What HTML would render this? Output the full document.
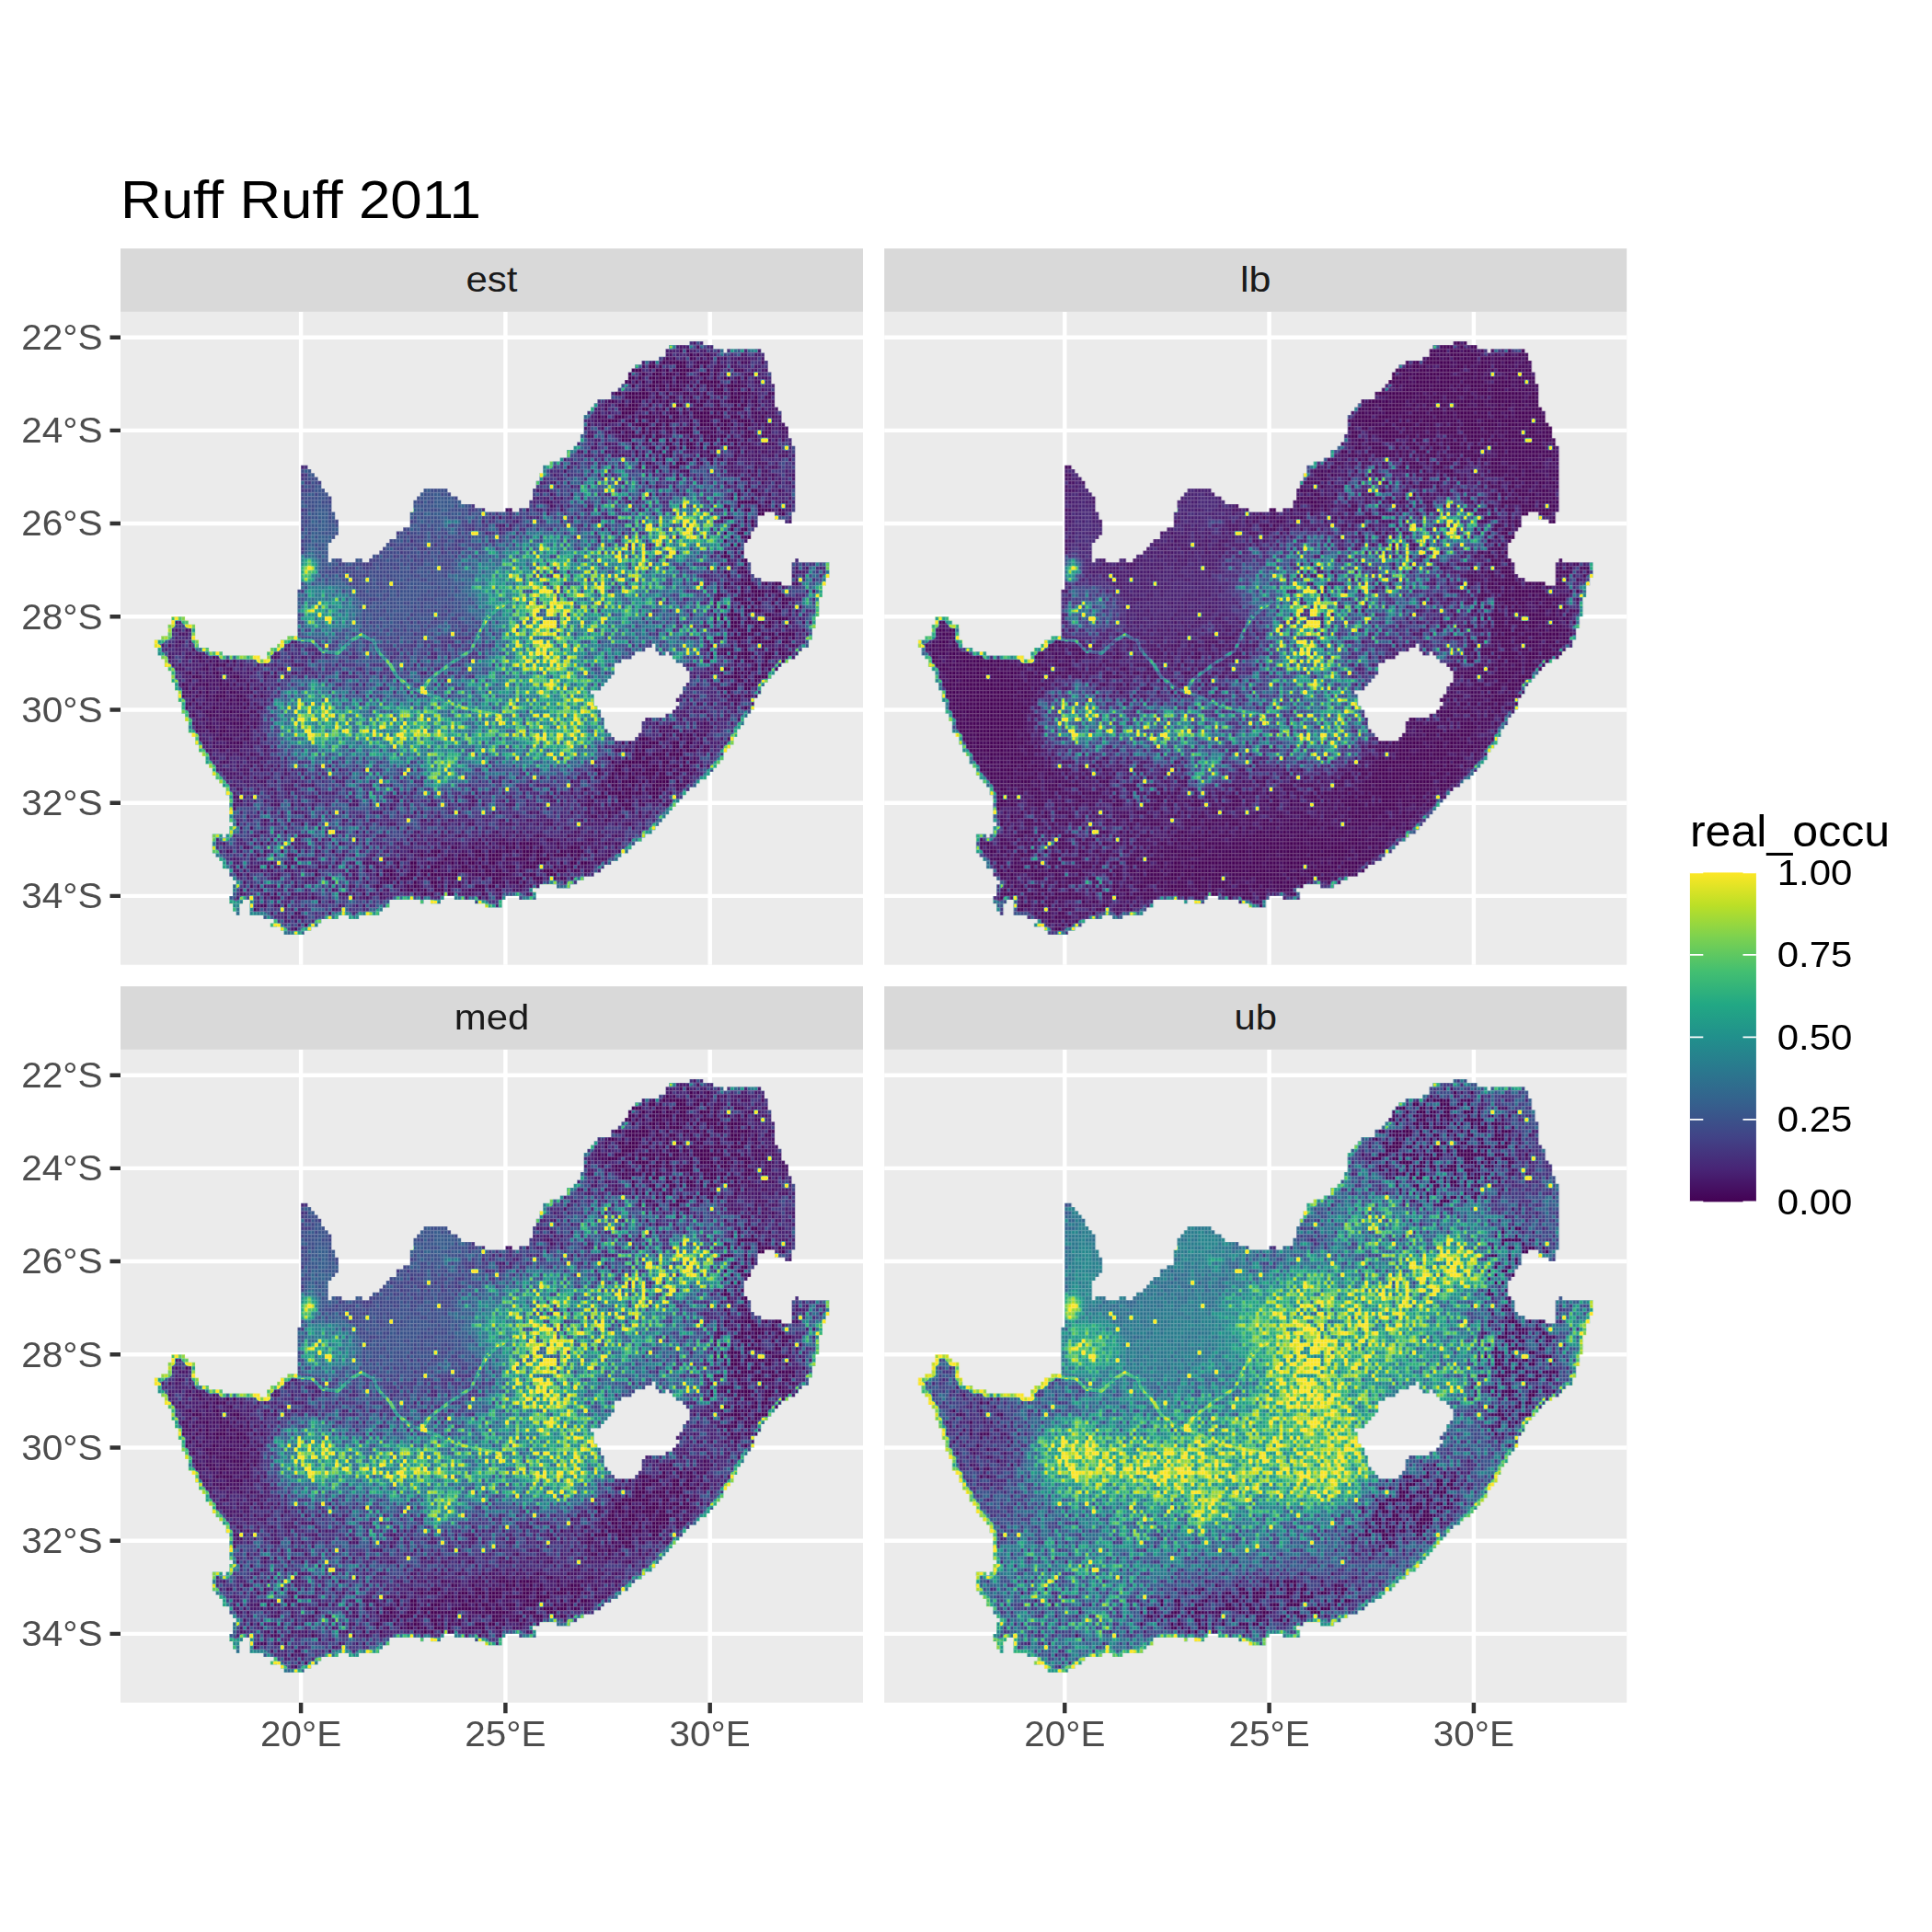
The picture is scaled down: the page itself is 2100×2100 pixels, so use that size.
<!DOCTYPE html><html><head><meta charset="utf-8"><title>Ruff Ruff 2011</title>
<style>html,body{margin:0;padding:0;background:#fff}svg{display:block}text{font-family:"Liberation Sans",sans-serif}</style></head><body>
<svg width="2100" height="2100" viewBox="0 0 2100 2100">
<rect width="2100" height="2100" fill="#fff"/>
<defs>
<path id="za" fill-rule="evenodd" clip-rule="evenodd" d="M327.1,505.8 334.5,505.8 334.5,510.0 338.2,510.0 338.2,514.2 341.9,514.2 341.9,518.5 345.6,518.5 345.6,522.7 349.3,522.7 349.3,531.1 353.0,531.1 353.0,535.3 356.7,535.3 356.7,539.5 360.4,539.5 360.4,548.0 360.4,556.4 364.2,556.4 364.2,564.8 367.9,564.8 367.9,581.7 364.2,581.7 364.2,585.9 360.4,585.9 360.4,590.1 356.7,590.1 356.7,594.4 356.7,611.2 360.4,611.2 360.4,607.0 371.6,607.0 371.6,611.2 386.4,611.2 386.4,607.0 393.8,607.0 393.8,611.2 401.2,611.2 401.2,607.0 404.9,607.0 404.9,602.8 412.3,602.8 412.3,598.6 416.0,598.6 416.0,594.4 419.7,594.4 419.7,590.1 423.4,590.1 423.4,585.9 430.8,585.9 430.8,581.7 430.8,577.5 438.2,577.5 438.2,573.3 445.7,573.3 445.7,569.0 445.7,556.4 449.4,556.4 449.4,552.2 449.4,543.8 453.1,543.8 453.1,539.5 456.8,539.5 456.8,535.3 460.5,535.3 460.5,531.1 486.4,531.1 486.4,535.3 490.1,535.3 490.1,539.5 497.5,539.5 497.5,543.8 501.2,543.8 501.2,548.0 516.1,548.0 516.1,552.2 527.2,552.2 527.2,556.4 549.4,556.4 549.4,552.2 556.8,552.2 556.8,556.4 564.2,556.4 564.2,552.2 575.3,552.2 575.3,543.8 579.0,543.8 579.0,539.5 579.0,531.1 582.7,531.1 582.7,526.9 582.7,522.7 586.5,522.7 586.5,518.5 586.5,514.2 590.2,514.2 590.2,510.0 590.2,505.8 597.6,505.8 597.6,501.6 608.7,501.6 608.7,497.4 616.1,497.4 616.1,488.9 623.5,488.9 623.5,484.7 627.2,484.7 627.2,480.5 630.9,480.5 630.9,476.3 630.9,472.1 634.6,472.1 634.6,467.8 634.6,451.0 638.3,451.0 638.3,446.8 642.0,446.8 642.0,442.5 645.7,442.5 645.7,438.3 649.4,438.3 649.4,434.1 664.3,434.1 664.3,425.7 671.7,425.7 671.7,421.5 675.4,421.5 675.4,417.2 679.1,417.2 679.1,413.0 682.8,413.0 682.8,408.8 682.8,404.6 686.5,404.6 686.5,400.4 690.2,400.4 690.2,396.2 697.6,396.2 697.6,391.9 716.1,391.9 716.1,387.7 723.5,387.7 723.5,379.3 727.2,379.3 727.2,375.1 749.5,375.1 749.5,370.9 764.3,370.9 764.3,375.1 775.4,375.1 775.4,379.3 786.5,379.3 786.5,383.5 790.2,383.5 790.2,379.3 827.3,379.3 827.3,383.5 831.0,383.5 831.0,391.9 834.7,391.9 834.7,404.6 838.4,404.6 838.4,417.2 842.1,417.2 842.1,442.5 845.8,442.5 845.8,446.8 849.5,446.8 849.5,459.4 853.2,459.4 853.2,463.6 856.9,463.6 856.9,476.3 860.6,476.3 860.6,484.7 864.3,484.7 864.3,556.4 860.6,556.4 860.6,569.0 853.2,569.0 853.2,564.8 842.1,564.8 842.1,556.4 831.0,556.4 831.0,560.6 827.3,560.6 823.6,560.6 823.6,564.8 823.6,573.3 819.9,573.3 819.9,577.5 816.2,577.5 816.2,585.9 812.5,585.9 812.5,590.1 808.8,590.1 808.8,607.0 812.5,607.0 812.5,611.2 816.2,611.2 816.2,623.9 819.9,623.9 819.9,628.1 827.3,628.1 827.3,632.3 849.5,632.3 849.5,636.5 860.6,636.5 860.6,611.2 864.3,611.2 864.3,607.0 868.0,607.0 868.0,611.2 901.4,611.2 901.4,628.1 897.7,628.1 897.7,636.5 894.0,636.5 894.0,649.2 890.3,649.2 890.3,670.2 886.6,670.2 886.6,682.9 882.9,682.9 882.9,695.5 879.1,695.5 879.1,704.0 871.7,704.0 871.7,708.2 868.0,708.2 868.0,712.4 864.3,712.4 864.3,716.6 856.9,716.6 856.9,720.8 849.5,720.8 849.5,725.1 845.8,725.1 845.8,729.3 842.1,729.3 842.1,733.5 838.4,733.5 838.4,737.7 834.7,737.7 834.7,741.9 831.0,741.9 831.0,746.1 827.3,746.1 827.3,754.6 823.6,754.6 823.6,758.8 819.9,758.8 819.9,771.5 816.2,771.5 816.2,775.7 812.5,775.7 812.5,779.9 808.8,779.9 808.8,788.3 805.0,788.3 805.0,792.5 801.3,792.5 801.3,801.0 797.6,801.0 797.6,809.4 793.9,809.4 793.9,813.6 790.2,813.6 790.2,817.8 786.5,817.8 786.5,826.3 782.8,826.3 782.8,830.5 779.1,830.5 779.1,834.7 775.4,834.7 775.4,838.9 771.7,838.9 771.7,843.1 768.0,843.1 768.0,847.3 760.6,847.3 760.6,851.6 756.9,851.6 756.9,855.8 749.5,855.8 749.5,860.0 745.8,860.0 745.8,864.2 742.1,864.2 742.1,868.4 738.4,868.4 738.4,872.6 734.7,872.6 734.7,876.9 730.9,876.9 730.9,881.1 727.2,881.1 727.2,885.3 723.5,885.3 723.5,889.5 719.8,889.5 719.8,893.7 716.1,893.7 716.1,898.0 712.4,898.0 712.4,902.2 708.7,902.2 708.7,906.4 701.3,906.4 701.3,910.6 697.6,910.6 697.6,914.8 690.2,914.8 690.2,919.0 686.5,919.0 686.5,923.2 682.8,923.2 682.8,927.5 675.4,927.5 675.4,931.7 671.7,931.7 671.7,935.9 664.3,935.9 664.3,940.1 656.8,940.1 656.8,944.3 653.1,944.3 653.1,948.5 645.7,948.5 645.7,952.8 634.6,952.8 634.6,957.0 627.2,957.0 627.2,961.2 619.8,961.2 619.8,965.4 605.0,965.4 605.0,961.2 586.5,961.2 586.5,965.4 579.0,965.4 579.0,969.6 582.7,969.6 582.7,978.1 564.2,978.1 564.2,973.9 549.4,973.9 549.4,978.1 545.7,978.1 545.7,986.5 527.2,986.5 527.2,982.3 516.1,982.3 516.1,978.1 493.8,978.1 493.8,973.9 482.7,973.9 482.7,978.1 479.0,978.1 479.0,982.3 467.9,982.3 467.9,978.1 460.5,978.1 460.5,982.3 456.8,982.3 456.8,978.1 423.4,978.1 423.4,986.5 416.0,986.5 416.0,990.7 412.3,990.7 412.3,994.9 390.1,994.9 390.1,999.1 379.0,999.1 379.0,994.9 367.9,994.9 367.9,999.1 349.3,999.1 349.3,1003.4 345.6,1003.4 345.6,1007.6 338.2,1007.6 338.2,1011.8 330.8,1011.8 330.8,1016.0 308.6,1016.0 308.6,1011.8 304.9,1011.8 304.9,1007.6 293.8,1007.6 293.8,1003.4 297.5,1003.4 297.5,999.1 286.3,999.1 286.3,994.9 271.5,994.9 271.5,978.1 264.1,978.1 264.1,982.3 260.4,982.3 260.4,994.9 256.7,994.9 256.7,990.7 253.0,990.7 253.0,982.3 249.3,982.3 249.3,973.9 253.0,973.9 253.0,961.2 256.7,961.2 256.7,957.0 253.0,957.0 253.0,952.8 249.3,952.8 249.3,944.3 241.9,944.3 241.9,935.9 238.2,935.9 238.2,931.7 234.5,931.7 234.5,927.5 230.8,927.5 230.8,906.4 241.9,906.4 241.9,910.6 245.6,910.6 245.6,906.4 249.3,906.4 249.3,898.0 253.0,898.0 253.0,893.7 249.3,893.7 249.3,864.2 245.6,864.2 245.6,855.8 241.9,855.8 241.9,851.6 238.2,851.6 238.2,847.3 234.5,847.3 234.5,843.1 230.8,843.1 230.8,834.7 227.1,834.7 227.1,830.5 223.4,830.5 223.4,822.0 219.7,822.0 219.7,817.8 216.0,817.8 216.0,809.4 212.2,809.4 212.2,801.0 208.5,801.0 208.5,796.8 204.8,796.8 204.8,784.1 201.1,784.1 201.1,775.7 197.4,775.7 197.4,763.0 193.7,763.0 193.7,750.4 190.0,750.4 190.0,741.9 186.3,741.9 186.3,729.3 182.6,729.3 182.6,725.1 178.9,725.1 178.9,716.6 175.2,716.6 175.2,712.4 171.5,712.4 171.5,704.0 167.8,704.0 167.8,695.5 175.2,695.5 175.2,691.3 182.6,691.3 182.6,678.7 186.3,678.7 186.3,670.2 201.1,670.2 201.1,674.5 204.8,674.5 204.8,678.7 212.2,678.7 212.2,695.5 216.0,695.5 216.0,704.0 227.1,704.0 227.1,708.2 241.9,708.2 241.9,712.4 282.6,712.4 282.6,716.6 290.1,716.6 290.1,708.2 293.8,708.2 293.8,704.0 301.2,704.0 301.2,699.8 304.9,699.8 304.9,695.5 312.3,695.5 312.3,691.3 323.4,691.3 323.4,649.2 323.4,640.7 327.1,640.7ZM708.7,699.8 712.4,699.8 712.4,708.2 716.1,708.2 716.1,712.4 723.5,712.4 723.5,708.2 727.2,708.2 727.2,712.4 730.9,712.4 730.9,716.6 734.7,716.6 734.7,720.8 742.1,720.8 742.1,725.1 745.8,725.1 745.8,729.3 749.5,729.3 749.5,741.9 745.8,741.9 745.8,746.1 742.1,746.1 742.1,754.6 738.4,754.6 738.4,758.8 734.7,758.8 734.7,763.0 738.4,763.0 738.4,767.2 734.7,767.2 734.7,771.5 730.9,771.5 730.9,775.7 723.5,775.7 723.5,779.9 701.3,779.9 701.3,784.1 697.6,784.1 697.6,796.8 693.9,796.8 693.9,801.0 690.2,801.0 690.2,805.2 668.0,805.2 668.0,801.0 664.3,801.0 664.3,796.8 660.5,796.8 660.5,792.5 656.8,792.5 656.8,779.9 653.1,779.9 653.1,771.5 649.4,771.5 649.4,767.2 645.7,767.2 645.7,754.6 642.0,754.6 642.0,750.4 653.1,750.4 653.1,746.1 656.8,746.1 656.8,741.9 660.5,741.9 660.5,737.7 664.3,737.7 664.3,733.5 668.0,733.5 668.0,720.8 675.4,720.8 675.4,716.6 686.5,716.6 686.5,712.4 690.2,712.4 690.2,708.2 701.3,708.2 701.3,704.0 708.7,704.0Z"/>
<clipPath id="zaclip"><use href="#za"/></clipPath>
<radialGradient id="gb"><stop offset="0" stop-color="#fff" stop-opacity="1"/><stop offset=".2" stop-color="#fff" stop-opacity=".9"/><stop offset=".4" stop-color="#fff" stop-opacity=".66"/><stop offset=".6" stop-color="#fff" stop-opacity=".37"/><stop offset=".8" stop-color="#fff" stop-opacity=".13"/><stop offset="1" stop-color="#fff" stop-opacity="0"/></radialGradient><radialGradient id="gk"><stop offset="0" stop-color="#000" stop-opacity="1"/><stop offset=".2" stop-color="#000" stop-opacity=".9"/><stop offset=".4" stop-color="#000" stop-opacity=".66"/><stop offset=".6" stop-color="#000" stop-opacity=".37"/><stop offset=".8" stop-color="#000" stop-opacity=".13"/><stop offset="1" stop-color="#000" stop-opacity="0"/></radialGradient><radialGradient id="gf"><stop offset="0" stop-color="#fff"/><stop offset=".55" stop-color="#fff"/><stop offset="1" stop-color="#fff" stop-opacity="0"/></radialGradient><pattern id="n1" patternUnits="userSpaceOnUse" width="23" height="19" patternTransform="translate(327.10 366.65) scale(3.7050 4.2167)"><rect width="23" height="19" fill="#424242"/><path d="M10 0h1v1h-1zM12 0h1v1h-1zM15 0h1v1h-1zM21 0h1v1h-1zM0 1h1v1h-1zM3 1h1v1h-1zM20 1h1v1h-1zM4 2h1v1h-1zM10 2h1v1h-1zM14 2h1v1h-1zM18 2h1v1h-1zM20 2h2v1h-2zM5 3h1v1h-1zM7 3h1v1h-1zM19 3h1v1h-1zM3 4h2v1h-2zM4 5h2v1h-2zM15 5h1v1h-1zM0 6h1v1h-1zM3 6h1v1h-1zM7 6h1v1h-1zM14 6h3v1h-3zM20 6h1v1h-1zM3 7h1v1h-1zM0 8h1v1h-1zM10 8h1v1h-1zM12 8h1v1h-1zM21 8h1v1h-1zM17 9h1v1h-1zM12 10h2v1h-2zM15 10h1v1h-1zM20 10h2v1h-2zM0 11h1v1h-1zM3 11h2v1h-2zM15 11h1v1h-1zM5 12h1v1h-1zM8 12h1v1h-1zM11 13h1v1h-1zM16 13h1v1h-1zM18 13h1v1h-1zM0 14h1v1h-1zM9 14h1v1h-1zM8 15h1v1h-1zM16 15h1v1h-1zM0 16h1v1h-1zM9 16h1v1h-1zM11 16h1v1h-1zM18 16h1v1h-1zM20 16h1v1h-1zM1 18h1v1h-1zM5 18h1v1h-1zM9 18h1v1h-1zM12 18h1v1h-1zM17 18h1v1h-1z" fill="#1a1a1a"/><path d="M0 0h1v1h-1zM3 0h2v1h-2zM7 0h1v1h-1zM4 1h2v1h-2zM7 1h1v1h-1zM9 1h1v1h-1zM11 1h1v1h-1zM22 1h1v1h-1zM1 2h1v1h-1zM7 2h1v1h-1zM9 2h1v1h-1zM2 3h1v1h-1zM8 3h1v1h-1zM16 3h1v1h-1zM8 4h2v1h-2zM11 4h1v1h-1zM3 5h1v1h-1zM2 6h1v1h-1zM5 6h1v1h-1zM8 6h1v1h-1zM22 6h1v1h-1zM11 7h1v1h-1zM15 7h1v1h-1zM20 7h1v1h-1zM5 8h1v1h-1zM8 8h1v1h-1zM14 8h1v1h-1zM17 8h1v1h-1zM5 9h1v1h-1zM10 9h1v1h-1zM14 9h1v1h-1zM18 9h1v1h-1zM2 10h1v1h-1zM5 10h1v1h-1zM7 10h1v1h-1zM11 10h1v1h-1zM22 10h1v1h-1zM6 11h1v1h-1zM13 11h1v1h-1zM16 11h1v1h-1zM20 11h1v1h-1zM22 11h1v1h-1zM2 12h1v1h-1zM9 12h1v1h-1zM12 12h1v1h-1zM17 12h1v1h-1zM10 13h1v1h-1zM12 13h1v1h-1zM15 13h1v1h-1zM21 13h1v1h-1zM2 14h1v1h-1zM7 14h1v1h-1zM15 14h1v1h-1zM19 14h1v1h-1zM6 15h1v1h-1zM10 15h2v1h-2zM14 15h1v1h-1zM18 15h1v1h-1zM22 15h1v1h-1zM1 16h1v1h-1zM4 16h1v1h-1zM16 16h1v1h-1zM21 16h1v1h-1zM2 17h3v1h-3zM7 18h1v1h-1zM10 18h1v1h-1zM18 18h1v1h-1zM20 18h1v1h-1z" fill="#737373"/><path d="M1 0h1v1h-1zM5 0h1v1h-1zM8 0h1v1h-1zM14 0h1v1h-1zM18 0h2v1h-2zM22 0h1v1h-1zM8 1h1v1h-1zM10 1h1v1h-1zM16 1h1v1h-1zM11 2h1v1h-1zM1 3h1v1h-1zM6 3h1v1h-1zM18 3h1v1h-1zM5 4h1v1h-1zM7 4h1v1h-1zM12 4h1v1h-1zM2 5h1v1h-1zM8 5h1v1h-1zM11 5h1v1h-1zM17 5h1v1h-1zM19 5h1v1h-1zM6 6h1v1h-1zM11 6h3v1h-3zM18 6h1v1h-1zM21 6h1v1h-1zM4 7h1v1h-1zM8 7h1v1h-1zM12 7h1v1h-1zM18 7h2v1h-2zM21 7h2v1h-2zM1 8h1v1h-1zM7 8h1v1h-1zM13 8h1v1h-1zM16 8h1v1h-1zM18 8h1v1h-1zM0 9h1v1h-1zM4 9h1v1h-1zM8 9h1v1h-1zM15 9h1v1h-1zM21 9h1v1h-1zM6 10h1v1h-1zM16 10h2v1h-2zM5 11h1v1h-1zM7 11h2v1h-2zM11 11h1v1h-1zM17 11h1v1h-1zM21 11h1v1h-1zM0 12h1v1h-1zM10 12h1v1h-1zM13 12h1v1h-1zM18 12h1v1h-1zM22 12h1v1h-1zM5 13h1v1h-1zM13 13h1v1h-1zM5 14h1v1h-1zM11 14h1v1h-1zM14 14h1v1h-1zM17 14h1v1h-1zM2 15h2v1h-2zM5 15h1v1h-1zM7 15h1v1h-1zM13 15h1v1h-1zM15 15h1v1h-1zM17 15h1v1h-1zM7 16h1v1h-1zM14 16h1v1h-1zM17 16h1v1h-1zM1 17h1v1h-1zM5 17h1v1h-1zM8 17h3v1h-3zM12 17h1v1h-1zM11 18h1v1h-1zM14 18h1v1h-1zM21 18h1v1h-1z" fill="#a6a6a6"/><path d="M9 0h1v1h-1zM13 0h1v1h-1zM6 1h1v1h-1zM15 1h1v1h-1zM21 1h1v1h-1zM0 2h1v1h-1zM3 2h1v1h-1zM12 2h1v1h-1zM17 2h1v1h-1zM22 2h1v1h-1zM4 3h1v1h-1zM12 3h1v1h-1zM17 3h1v1h-1zM0 4h1v1h-1zM17 4h1v1h-1zM20 4h1v1h-1zM10 5h1v1h-1zM14 5h1v1h-1zM18 5h1v1h-1zM0 7h1v1h-1zM5 7h1v1h-1zM7 7h1v1h-1zM9 7h1v1h-1zM16 7h1v1h-1zM4 8h1v1h-1zM6 8h1v1h-1zM9 8h1v1h-1zM11 8h1v1h-1zM11 9h1v1h-1zM19 9h2v1h-2zM9 10h1v1h-1zM19 10h1v1h-1zM1 11h1v1h-1zM9 11h1v1h-1zM1 12h1v1h-1zM3 12h1v1h-1zM7 12h1v1h-1zM15 12h1v1h-1zM20 12h2v1h-2zM0 13h1v1h-1zM6 13h1v1h-1zM9 13h1v1h-1zM14 13h1v1h-1zM17 13h1v1h-1zM19 13h1v1h-1zM22 13h1v1h-1zM3 14h2v1h-2zM13 14h1v1h-1zM16 14h1v1h-1zM20 14h1v1h-1zM0 15h1v1h-1zM12 15h1v1h-1zM2 16h1v1h-1zM10 16h1v1h-1zM19 16h1v1h-1zM11 17h1v1h-1zM13 17h1v1h-1zM15 17h2v1h-2zM3 18h1v1h-1zM6 18h1v1h-1zM8 18h1v1h-1zM19 18h1v1h-1z" fill="#d4d4d4"/><path d="M2 0h1v1h-1zM16 0h2v1h-2zM13 1h2v1h-2zM2 2h1v1h-1zM6 2h1v1h-1zM8 2h1v1h-1zM16 2h1v1h-1zM11 3h1v1h-1zM14 3h1v1h-1zM20 3h1v1h-1zM10 4h1v1h-1zM13 4h1v1h-1zM16 4h1v1h-1zM21 4h1v1h-1zM0 5h2v1h-2zM6 5h1v1h-1zM21 5h1v1h-1zM9 6h2v1h-2zM17 6h1v1h-1zM19 6h1v1h-1zM2 7h1v1h-1zM6 7h1v1h-1zM10 7h1v1h-1zM13 7h2v1h-2zM17 7h1v1h-1zM2 8h2v1h-2zM19 8h1v1h-1zM3 9h1v1h-1zM6 9h1v1h-1zM12 9h2v1h-2zM22 9h1v1h-1zM10 10h1v1h-1zM14 10h1v1h-1zM10 11h1v1h-1zM4 12h1v1h-1zM6 12h1v1h-1zM11 12h1v1h-1zM14 12h1v1h-1zM16 12h1v1h-1zM2 13h3v1h-3zM8 13h1v1h-1zM6 14h1v1h-1zM8 14h1v1h-1zM21 14h1v1h-1zM1 15h1v1h-1zM9 15h1v1h-1zM19 15h2v1h-2zM3 16h1v1h-1zM8 16h1v1h-1zM17 17h1v1h-1zM20 17h1v1h-1zM22 17h1v1h-1zM0 18h1v1h-1zM15 18h2v1h-2z" fill="#ffffff"/></pattern><pattern id="n2" patternUnits="userSpaceOnUse" width="17" height="29" patternTransform="translate(327.10 366.65) scale(3.7050 4.2167)"><rect width="17" height="29" fill="#d1d1d1"/><path d="M6 0h1v1h-1zM11 0h1v1h-1zM16 0h1v1h-1zM6 1h1v1h-1zM8 1h2v1h-2zM10 2h2v1h-2zM14 2h1v1h-1zM6 3h1v1h-1zM8 3h1v1h-1zM11 3h1v1h-1zM15 3h2v1h-2zM10 4h1v1h-1zM14 4h1v1h-1zM16 4h1v1h-1zM9 5h2v1h-2zM14 5h1v1h-1zM6 6h1v1h-1zM8 6h1v1h-1zM11 6h1v1h-1zM16 6h1v1h-1zM1 7h1v1h-1zM14 7h1v1h-1zM4 8h1v1h-1zM7 9h1v1h-1zM9 11h1v1h-1zM16 11h1v1h-1zM2 12h2v1h-2zM7 12h1v1h-1zM14 12h1v1h-1zM1 13h1v1h-1zM4 13h1v1h-1zM6 13h1v1h-1zM16 13h1v1h-1zM7 14h2v1h-2zM11 14h1v1h-1zM15 15h1v1h-1zM4 16h1v1h-1zM2 17h1v1h-1zM13 17h1v1h-1zM2 18h1v1h-1zM16 18h1v1h-1zM6 19h1v1h-1zM11 19h1v1h-1zM14 19h1v1h-1zM2 20h1v1h-1zM7 20h1v1h-1zM13 20h1v1h-1zM16 20h1v1h-1zM4 21h2v1h-2zM7 21h2v1h-2zM12 21h1v1h-1zM2 22h1v1h-1zM4 22h1v1h-1zM15 22h1v1h-1zM5 23h1v1h-1zM7 23h2v1h-2zM15 23h1v1h-1zM0 24h2v1h-2zM5 24h1v1h-1zM9 24h1v1h-1zM0 25h1v1h-1zM11 25h2v1h-2zM14 25h1v1h-1zM1 26h1v1h-1zM7 26h1v1h-1zM13 26h1v1h-1zM3 27h1v1h-1zM11 27h1v1h-1zM1 28h1v1h-1zM3 28h1v1h-1z" fill="#737373"/><path d="M13 0h1v1h-1zM0 1h2v1h-2zM4 1h1v1h-1zM11 1h2v1h-2zM15 1h1v1h-1zM2 2h1v1h-1zM7 2h3v1h-3zM12 2h1v1h-1zM16 2h1v1h-1zM0 3h1v1h-1zM3 3h1v1h-1zM13 3h1v1h-1zM0 4h1v1h-1zM2 4h1v1h-1zM6 4h2v1h-2zM0 5h1v1h-1zM3 5h1v1h-1zM6 5h3v1h-3zM13 5h1v1h-1zM1 6h1v1h-1zM3 7h1v1h-1zM12 7h1v1h-1zM15 7h1v1h-1zM3 8h1v1h-1zM5 8h1v1h-1zM8 8h1v1h-1zM14 8h1v1h-1zM16 8h1v1h-1zM3 9h1v1h-1zM9 9h1v1h-1zM15 9h1v1h-1zM2 10h1v1h-1zM10 10h1v1h-1zM0 11h1v1h-1zM10 11h1v1h-1zM13 11h1v1h-1zM1 12h1v1h-1zM4 12h3v1h-3zM9 12h1v1h-1zM12 12h1v1h-1zM16 12h1v1h-1zM3 13h1v1h-1zM8 13h1v1h-1zM15 13h1v1h-1zM5 14h1v1h-1zM14 14h1v1h-1zM16 14h1v1h-1zM0 15h1v1h-1zM2 15h1v1h-1zM6 15h1v1h-1zM10 15h1v1h-1zM13 15h1v1h-1zM1 16h1v1h-1zM6 16h1v1h-1zM9 16h3v1h-3zM13 16h1v1h-1zM4 17h1v1h-1zM6 17h2v1h-2zM10 17h1v1h-1zM14 17h1v1h-1zM13 18h2v1h-2zM3 19h1v1h-1zM10 19h1v1h-1zM15 19h1v1h-1zM9 20h1v1h-1zM14 20h1v1h-1zM2 21h1v1h-1zM6 21h1v1h-1zM14 21h1v1h-1zM1 22h1v1h-1zM10 22h1v1h-1zM12 22h1v1h-1zM16 22h1v1h-1zM0 23h1v1h-1zM2 23h1v1h-1zM10 23h1v1h-1zM13 23h1v1h-1zM4 24h1v1h-1zM11 24h3v1h-3zM15 24h1v1h-1zM13 25h1v1h-1zM8 26h3v1h-3zM14 26h3v1h-3zM0 27h2v1h-2zM5 27h1v1h-1zM13 27h1v1h-1zM16 27h1v1h-1zM0 28h1v1h-1zM2 28h1v1h-1zM6 28h2v1h-2zM9 28h1v1h-1zM12 28h2v1h-2z" fill="#a6a6a6"/><path d="M1 0h5v1h-5zM8 0h1v1h-1zM10 0h1v1h-1zM2 1h2v1h-2zM5 1h1v1h-1zM10 1h1v1h-1zM13 1h2v1h-2zM16 1h1v1h-1zM3 2h1v1h-1zM5 2h2v1h-2zM1 3h1v1h-1zM5 3h1v1h-1zM7 3h1v1h-1zM9 3h2v1h-2zM12 3h1v1h-1zM1 4h1v1h-1zM3 4h3v1h-3zM9 4h1v1h-1zM11 4h3v1h-3zM15 4h1v1h-1zM2 5h1v1h-1zM4 5h1v1h-1zM12 5h1v1h-1zM15 5h1v1h-1zM3 6h1v1h-1zM7 6h1v1h-1zM10 6h1v1h-1zM12 6h2v1h-2zM15 6h1v1h-1zM2 7h1v1h-1zM5 7h3v1h-3zM10 7h1v1h-1zM16 7h1v1h-1zM0 8h1v1h-1zM6 8h2v1h-2zM9 8h3v1h-3zM13 8h1v1h-1zM15 8h1v1h-1zM1 9h1v1h-1zM4 9h1v1h-1zM12 9h1v1h-1zM14 9h1v1h-1zM0 10h2v1h-2zM3 10h2v1h-2zM6 10h2v1h-2zM11 10h2v1h-2zM15 10h2v1h-2zM1 11h1v1h-1zM6 11h1v1h-1zM8 11h1v1h-1zM13 12h1v1h-1zM2 13h1v1h-1zM10 13h2v1h-2zM13 13h1v1h-1zM2 14h2v1h-2zM6 14h1v1h-1zM13 14h1v1h-1zM1 15h1v1h-1zM3 15h2v1h-2zM7 15h1v1h-1zM11 15h1v1h-1zM2 16h2v1h-2zM7 16h2v1h-2zM12 16h1v1h-1zM1 17h1v1h-1zM3 17h1v1h-1zM11 17h1v1h-1zM16 17h1v1h-1zM0 18h1v1h-1zM3 18h1v1h-1zM6 18h1v1h-1zM9 18h1v1h-1zM12 18h1v1h-1zM15 18h1v1h-1zM0 19h2v1h-2zM4 19h2v1h-2zM13 19h1v1h-1zM16 19h1v1h-1zM0 20h1v1h-1zM3 20h4v1h-4zM8 20h1v1h-1zM11 20h2v1h-2zM15 20h1v1h-1zM10 21h2v1h-2zM0 22h1v1h-1zM3 22h1v1h-1zM7 22h1v1h-1zM13 22h1v1h-1zM1 23h1v1h-1zM3 23h1v1h-1zM11 23h1v1h-1zM14 23h1v1h-1zM16 23h1v1h-1zM2 24h1v1h-1zM6 24h1v1h-1zM8 24h1v1h-1zM1 25h1v1h-1zM3 25h1v1h-1zM5 25h1v1h-1zM9 25h1v1h-1zM15 25h1v1h-1zM0 26h1v1h-1zM3 26h1v1h-1zM12 26h1v1h-1zM4 27h1v1h-1zM6 27h1v1h-1zM10 27h1v1h-1zM15 27h1v1h-1zM5 28h1v1h-1zM10 28h2v1h-2zM15 28h1v1h-1z" fill="#ffffff"/></pattern><pattern id="sp1" patternUnits="userSpaceOnUse" width="53" height="47" patternTransform="translate(327.10 366.65) scale(3.7050 4.2167)"><path d="M0 4h1v1h-1zM0 30h1v1h-1zM1 7h1v1h-1zM1 18h1v1h-1zM1 23h1v1h-1zM1 24h1v1h-1zM1 37h1v1h-1zM2 2h1v1h-1zM2 7h1v1h-1zM2 8h1v1h-1zM2 19h1v1h-1zM2 23h1v1h-1zM2 26h1v1h-1zM2 29h1v1h-1zM2 33h1v1h-1zM2 36h1v1h-1zM3 0h1v1h-1zM3 4h1v1h-1zM3 8h1v1h-1zM3 17h1v1h-1zM3 23h1v1h-1zM3 30h1v1h-1zM3 40h1v1h-1zM3 43h1v1h-1zM4 22h1v1h-1zM4 27h1v1h-1zM4 37h1v1h-1zM5 21h1v1h-1zM5 36h1v1h-1zM5 39h1v1h-1zM6 1h1v1h-1zM6 35h1v1h-1zM6 37h1v1h-1zM6 38h1v1h-1zM6 42h1v1h-1zM6 45h1v1h-1zM7 2h1v1h-1zM7 4h1v1h-1zM7 8h1v1h-1zM7 29h1v1h-1zM8 1h1v1h-1zM8 17h1v1h-1zM8 26h1v1h-1zM9 12h1v1h-1zM9 14h1v1h-1zM9 37h1v1h-1zM9 41h1v1h-1zM10 6h1v1h-1zM10 15h1v1h-1zM10 20h1v1h-1zM10 32h1v1h-1zM10 37h1v1h-1zM10 44h1v1h-1zM11 17h1v1h-1zM11 43h1v1h-1zM12 7h1v1h-1zM12 20h1v1h-1zM12 26h1v1h-1zM12 45h1v1h-1zM13 36h1v1h-1zM14 7h1v1h-1zM14 21h1v1h-1zM14 27h1v1h-1zM14 41h1v1h-1zM14 44h1v1h-1zM15 11h1v1h-1zM15 13h1v1h-1zM15 17h1v1h-1zM15 20h1v1h-1zM15 24h1v1h-1zM15 26h1v1h-1zM15 37h1v1h-1zM16 9h1v1h-1zM16 12h1v1h-1zM16 23h1v1h-1zM16 33h1v1h-1zM16 34h1v1h-1zM16 40h1v1h-1zM16 43h1v1h-1zM17 18h1v1h-1zM17 27h1v1h-1zM17 31h1v1h-1zM17 38h1v1h-1zM18 7h1v1h-1zM18 26h1v1h-1zM18 33h1v1h-1zM18 34h1v1h-1zM18 39h1v1h-1zM19 15h1v1h-1zM19 23h1v1h-1zM19 24h1v1h-1zM19 26h1v1h-1zM19 27h1v1h-1zM19 32h1v1h-1zM19 35h1v1h-1zM20 0h1v1h-1zM20 11h1v1h-1zM20 21h1v1h-1zM20 23h1v1h-1zM20 26h1v1h-1zM20 34h1v1h-1zM21 0h1v1h-1zM21 7h1v1h-1zM21 8h1v1h-1zM21 14h1v1h-1zM21 20h1v1h-1zM21 27h1v1h-1zM21 41h1v1h-1zM22 4h1v1h-1zM22 14h1v1h-1zM22 35h1v1h-1zM22 37h1v1h-1zM23 6h1v1h-1zM23 8h1v1h-1zM23 11h1v1h-1zM23 38h1v1h-1zM24 5h1v1h-1zM24 11h1v1h-1zM24 24h1v1h-1zM24 32h1v1h-1zM24 37h1v1h-1zM24 40h1v1h-1zM24 41h1v1h-1zM24 45h1v1h-1zM25 9h1v1h-1zM25 40h1v1h-1zM25 46h1v1h-1zM26 3h1v1h-1zM26 5h1v1h-1zM26 9h1v1h-1zM26 37h1v1h-1zM26 44h1v1h-1zM27 26h1v1h-1zM27 35h1v1h-1zM27 36h1v1h-1zM27 40h1v1h-1zM27 41h1v1h-1zM28 8h1v1h-1zM28 10h1v1h-1zM28 17h1v1h-1zM28 37h1v1h-1zM29 1h1v1h-1zM29 19h1v1h-1zM29 22h1v1h-1zM29 33h1v1h-1zM29 38h1v1h-1zM29 39h1v1h-1zM30 2h1v1h-1zM30 3h1v1h-1zM30 5h1v1h-1zM30 7h1v1h-1zM30 9h1v1h-1zM30 16h1v1h-1zM30 34h1v1h-1zM30 38h1v1h-1zM30 40h1v1h-1zM31 13h1v1h-1zM31 20h1v1h-1zM31 30h1v1h-1zM31 40h1v1h-1zM32 12h1v1h-1zM32 15h1v1h-1zM32 20h1v1h-1zM32 24h1v1h-1zM32 32h1v1h-1zM32 33h1v1h-1zM33 24h1v1h-1zM33 27h1v1h-1zM33 34h1v1h-1zM34 2h1v1h-1zM34 7h1v1h-1zM34 8h1v1h-1zM34 17h1v1h-1zM34 18h1v1h-1zM34 37h1v1h-1zM35 0h1v1h-1zM35 3h1v1h-1zM35 6h1v1h-1zM35 14h1v1h-1zM35 16h1v1h-1zM35 17h1v1h-1zM35 20h1v1h-1zM35 30h1v1h-1zM36 11h1v1h-1zM36 22h1v1h-1zM36 25h1v1h-1zM36 26h1v1h-1zM36 34h1v1h-1zM36 36h1v1h-1zM36 37h1v1h-1zM36 43h1v1h-1zM37 4h1v1h-1zM37 19h1v1h-1zM37 20h1v1h-1zM37 21h1v1h-1zM37 38h1v1h-1zM38 0h1v1h-1zM38 16h1v1h-1zM38 25h1v1h-1zM38 39h1v1h-1zM38 43h1v1h-1zM38 45h1v1h-1zM39 7h1v1h-1zM39 27h1v1h-1zM39 32h1v1h-1zM39 33h1v1h-1zM39 37h1v1h-1zM40 8h1v1h-1zM40 9h1v1h-1zM40 21h1v1h-1zM40 26h1v1h-1zM40 31h1v1h-1zM40 36h1v1h-1zM40 46h1v1h-1zM41 13h1v1h-1zM41 15h1v1h-1zM41 34h1v1h-1zM42 1h1v1h-1zM42 4h1v1h-1zM42 6h1v1h-1zM42 33h1v1h-1zM42 44h1v1h-1zM43 1h1v1h-1zM43 14h1v1h-1zM43 22h1v1h-1zM43 30h1v1h-1zM43 33h1v1h-1zM44 2h1v1h-1zM44 6h1v1h-1zM44 7h1v1h-1zM44 18h1v1h-1zM44 25h1v1h-1zM44 26h1v1h-1zM44 33h1v1h-1zM44 37h1v1h-1zM45 0h1v1h-1zM45 5h1v1h-1zM45 14h1v1h-1zM45 15h1v1h-1zM45 27h1v1h-1zM45 46h1v1h-1zM46 11h1v1h-1zM46 20h1v1h-1zM46 24h1v1h-1zM47 0h1v1h-1zM47 6h1v1h-1zM47 8h1v1h-1zM47 10h1v1h-1zM47 33h1v1h-1zM47 41h1v1h-1zM48 2h1v1h-1zM48 12h1v1h-1zM48 42h1v1h-1zM48 44h1v1h-1zM49 1h1v1h-1zM50 17h1v1h-1zM50 24h1v1h-1zM50 26h1v1h-1zM51 2h1v1h-1zM51 5h1v1h-1zM51 8h1v1h-1zM51 15h1v1h-1zM51 17h1v1h-1zM51 36h1v1h-1zM51 44h1v1h-1zM52 0h1v1h-1zM52 1h1v1h-1zM52 4h1v1h-1zM52 17h1v1h-1zM52 46h1v1h-1z" fill="#fff"/></pattern><pattern id="sp2" patternUnits="userSpaceOnUse" width="127" height="101" patternTransform="translate(327.10 366.65) scale(3.7050 4.2167)"><path d="M5 71h1v1h-1zM6 9h1v1h-1zM7 24h1v1h-1zM7 72h1v1h-1zM7 79h1v1h-1zM7 93h1v1h-1zM8 11h1v1h-1zM8 26h1v1h-1zM8 72h1v1h-1zM9 26h1v1h-1zM9 97h1v1h-1zM10 21h1v1h-1zM11 55h1v1h-1zM12 46h1v1h-1zM13 0h1v1h-1zM13 61h1v1h-1zM14 43h1v1h-1zM14 62h1v1h-1zM15 28h1v1h-1zM15 65h1v1h-1zM15 73h1v1h-1zM18 53h1v1h-1zM18 69h1v1h-1zM19 10h1v1h-1zM19 62h1v1h-1zM19 81h1v1h-1zM22 19h1v1h-1zM23 13h1v1h-1zM23 33h1v1h-1zM26 63h1v1h-1zM27 4h1v1h-1zM27 98h1v1h-1zM29 1h1v1h-1zM29 84h1v1h-1zM30 11h1v1h-1zM31 10h1v1h-1zM31 23h1v1h-1zM32 44h1v1h-1zM35 90h1v1h-1zM36 0h1v1h-1zM36 16h1v1h-1zM36 77h1v1h-1zM36 91h1v1h-1zM37 53h1v1h-1zM39 71h1v1h-1zM40 16h1v1h-1zM40 59h1v1h-1zM41 19h1v1h-1zM43 88h1v1h-1zM44 2h1v1h-1zM44 76h1v1h-1zM45 21h1v1h-1zM46 38h1v1h-1zM47 12h1v1h-1zM49 85h1v1h-1zM50 6h1v1h-1zM50 50h1v1h-1zM50 83h1v1h-1zM51 50h1v1h-1zM53 5h1v1h-1zM53 8h1v1h-1zM53 21h1v1h-1zM53 45h1v1h-1zM54 99h1v1h-1zM56 20h1v1h-1zM57 51h1v1h-1zM58 99h1v1h-1zM60 15h1v1h-1zM60 89h1v1h-1zM61 61h1v1h-1zM62 75h1v1h-1zM63 7h1v1h-1zM63 74h1v1h-1zM67 63h1v1h-1zM68 12h1v1h-1zM68 47h1v1h-1zM70 35h1v1h-1zM70 54h1v1h-1zM70 91h1v1h-1zM71 73h1v1h-1zM72 19h1v1h-1zM73 38h1v1h-1zM73 74h1v1h-1zM74 7h1v1h-1zM74 58h1v1h-1zM74 73h1v1h-1zM76 6h1v1h-1zM77 46h1v1h-1zM78 3h1v1h-1zM78 14h1v1h-1zM78 48h1v1h-1zM78 72h1v1h-1zM80 80h1v1h-1zM81 24h1v1h-1zM81 51h1v1h-1zM82 73h1v1h-1zM83 86h1v1h-1zM85 8h1v1h-1zM87 48h1v1h-1zM87 57h1v1h-1zM87 68h1v1h-1zM88 65h1v1h-1zM89 39h1v1h-1zM89 99h1v1h-1zM93 57h1v1h-1zM94 6h1v1h-1zM94 31h1v1h-1zM96 43h1v1h-1zM101 40h1v1h-1zM102 58h1v1h-1zM102 71h1v1h-1zM104 55h1v1h-1zM104 87h1v1h-1zM105 68h1v1h-1zM109 17h1v1h-1zM110 70h1v1h-1zM112 43h1v1h-1zM113 17h1v1h-1zM116 64h1v1h-1zM117 63h1v1h-1zM120 34h1v1h-1zM120 59h1v1h-1zM121 46h1v1h-1zM121 79h1v1h-1zM121 87h1v1h-1zM122 29h1v1h-1zM123 85h1v1h-1zM124 28h1v1h-1zM125 9h1v1h-1zM125 59h1v1h-1z" fill="#fff"/></pattern><pattern id="sk" patternUnits="userSpaceOnUse" width="61" height="59" patternTransform="translate(327.10 366.65) scale(3.7050 4.2167)"><path d="M0 0h1v1h-1zM0 5h1v1h-1zM0 6h1v1h-1zM0 7h1v1h-1zM0 8h1v1h-1zM0 16h1v1h-1zM0 18h1v1h-1zM0 31h1v1h-1zM0 38h1v1h-1zM0 44h1v1h-1zM0 45h1v1h-1zM0 47h1v1h-1zM0 49h1v1h-1zM0 55h1v1h-1zM1 7h1v1h-1zM1 12h1v1h-1zM1 13h1v1h-1zM1 18h1v1h-1zM1 26h1v1h-1zM1 31h1v1h-1zM1 33h1v1h-1zM1 35h1v1h-1zM1 39h1v1h-1zM1 44h1v1h-1zM1 46h1v1h-1zM1 47h1v1h-1zM1 56h1v1h-1zM1 58h1v1h-1zM2 1h1v1h-1zM2 4h1v1h-1zM2 5h1v1h-1zM2 10h1v1h-1zM2 21h1v1h-1zM2 22h1v1h-1zM2 28h1v1h-1zM2 37h1v1h-1zM2 38h1v1h-1zM2 39h1v1h-1zM2 43h1v1h-1zM2 46h1v1h-1zM2 50h1v1h-1zM2 52h1v1h-1zM2 55h1v1h-1zM2 56h1v1h-1zM3 2h1v1h-1zM3 4h1v1h-1zM3 12h1v1h-1zM3 16h1v1h-1zM3 21h1v1h-1zM3 23h1v1h-1zM3 26h1v1h-1zM3 28h1v1h-1zM3 31h1v1h-1zM3 32h1v1h-1zM3 34h1v1h-1zM3 35h1v1h-1zM3 38h1v1h-1zM3 43h1v1h-1zM3 44h1v1h-1zM3 46h1v1h-1zM3 56h1v1h-1zM4 6h1v1h-1zM4 11h1v1h-1zM4 12h1v1h-1zM4 13h1v1h-1zM4 14h1v1h-1zM4 15h1v1h-1zM4 16h1v1h-1zM4 18h1v1h-1zM4 20h1v1h-1zM4 22h1v1h-1zM4 28h1v1h-1zM4 31h1v1h-1zM4 33h1v1h-1zM4 34h1v1h-1zM4 40h1v1h-1zM4 41h1v1h-1zM4 46h1v1h-1zM4 49h1v1h-1zM4 51h1v1h-1zM4 53h1v1h-1zM5 8h1v1h-1zM5 12h1v1h-1zM5 15h1v1h-1zM5 17h1v1h-1zM5 18h1v1h-1zM5 26h1v1h-1zM5 27h1v1h-1zM5 28h1v1h-1zM5 30h1v1h-1zM5 31h1v1h-1zM5 34h1v1h-1zM5 35h1v1h-1zM5 37h1v1h-1zM5 47h1v1h-1zM5 54h1v1h-1zM6 1h1v1h-1zM6 8h1v1h-1zM6 12h1v1h-1zM6 13h1v1h-1zM6 14h1v1h-1zM6 18h1v1h-1zM6 20h1v1h-1zM6 23h1v1h-1zM6 28h1v1h-1zM6 29h1v1h-1zM6 33h1v1h-1zM6 34h1v1h-1zM6 39h1v1h-1zM6 40h1v1h-1zM6 42h1v1h-1zM6 43h1v1h-1zM6 50h1v1h-1zM6 53h1v1h-1zM7 0h1v1h-1zM7 3h1v1h-1zM7 5h1v1h-1zM7 6h1v1h-1zM7 7h1v1h-1zM7 8h1v1h-1zM7 17h1v1h-1zM7 18h1v1h-1zM7 27h1v1h-1zM7 36h1v1h-1zM7 42h1v1h-1zM7 50h1v1h-1zM8 1h1v1h-1zM8 9h1v1h-1zM8 10h1v1h-1zM8 14h1v1h-1zM8 15h1v1h-1zM8 16h1v1h-1zM8 17h1v1h-1zM8 21h1v1h-1zM8 22h1v1h-1zM8 23h1v1h-1zM8 26h1v1h-1zM8 36h1v1h-1zM8 39h1v1h-1zM8 41h1v1h-1zM8 42h1v1h-1zM8 44h1v1h-1zM8 45h1v1h-1zM8 46h1v1h-1zM8 47h1v1h-1zM8 49h1v1h-1zM8 55h1v1h-1zM9 4h1v1h-1zM9 7h1v1h-1zM9 13h1v1h-1zM9 14h1v1h-1zM9 22h1v1h-1zM9 24h1v1h-1zM9 27h1v1h-1zM9 31h1v1h-1zM9 34h1v1h-1zM9 36h1v1h-1zM9 37h1v1h-1zM9 38h1v1h-1zM9 40h1v1h-1zM9 42h1v1h-1zM9 44h1v1h-1zM9 51h1v1h-1zM9 52h1v1h-1zM10 0h1v1h-1zM10 5h1v1h-1zM10 8h1v1h-1zM10 16h1v1h-1zM10 19h1v1h-1zM10 24h1v1h-1zM10 30h1v1h-1zM10 35h1v1h-1zM10 39h1v1h-1zM10 41h1v1h-1zM10 42h1v1h-1zM10 47h1v1h-1zM10 48h1v1h-1zM10 50h1v1h-1zM10 51h1v1h-1zM10 54h1v1h-1zM11 5h1v1h-1zM11 8h1v1h-1zM11 11h1v1h-1zM11 15h1v1h-1zM11 16h1v1h-1zM11 19h1v1h-1zM11 25h1v1h-1zM11 26h1v1h-1zM11 28h1v1h-1zM11 33h1v1h-1zM11 34h1v1h-1zM11 39h1v1h-1zM11 40h1v1h-1zM11 42h1v1h-1zM11 52h1v1h-1zM11 58h1v1h-1zM12 0h1v1h-1zM12 1h1v1h-1zM12 6h1v1h-1zM12 7h1v1h-1zM12 9h1v1h-1zM12 11h1v1h-1zM12 19h1v1h-1zM12 28h1v1h-1zM12 32h1v1h-1zM12 43h1v1h-1zM12 45h1v1h-1zM12 49h1v1h-1zM12 54h1v1h-1zM12 56h1v1h-1zM12 57h1v1h-1zM13 1h1v1h-1zM13 20h1v1h-1zM13 21h1v1h-1zM13 25h1v1h-1zM13 33h1v1h-1zM13 34h1v1h-1zM13 36h1v1h-1zM13 37h1v1h-1zM13 45h1v1h-1zM13 46h1v1h-1zM14 3h1v1h-1zM14 4h1v1h-1zM14 12h1v1h-1zM14 15h1v1h-1zM14 19h1v1h-1zM14 22h1v1h-1zM14 23h1v1h-1zM14 24h1v1h-1zM14 25h1v1h-1zM14 28h1v1h-1zM14 32h1v1h-1zM14 34h1v1h-1zM14 36h1v1h-1zM14 42h1v1h-1zM14 44h1v1h-1zM14 48h1v1h-1zM14 51h1v1h-1zM15 14h1v1h-1zM15 15h1v1h-1zM15 17h1v1h-1zM15 19h1v1h-1zM15 23h1v1h-1zM15 26h1v1h-1zM15 30h1v1h-1zM15 40h1v1h-1zM15 44h1v1h-1zM15 45h1v1h-1zM15 46h1v1h-1zM15 47h1v1h-1zM15 49h1v1h-1zM15 52h1v1h-1zM15 58h1v1h-1zM16 5h1v1h-1zM16 6h1v1h-1zM16 18h1v1h-1zM16 19h1v1h-1zM16 21h1v1h-1zM16 29h1v1h-1zM16 35h1v1h-1zM16 36h1v1h-1zM16 45h1v1h-1zM16 54h1v1h-1zM16 55h1v1h-1zM16 56h1v1h-1zM17 1h1v1h-1zM17 2h1v1h-1zM17 4h1v1h-1zM17 6h1v1h-1zM17 8h1v1h-1zM17 10h1v1h-1zM17 26h1v1h-1zM17 31h1v1h-1zM17 33h1v1h-1zM17 35h1v1h-1zM17 38h1v1h-1zM17 43h1v1h-1zM17 46h1v1h-1zM17 50h1v1h-1zM17 56h1v1h-1zM18 2h1v1h-1zM18 4h1v1h-1zM18 7h1v1h-1zM18 13h1v1h-1zM18 14h1v1h-1zM18 17h1v1h-1zM18 21h1v1h-1zM18 25h1v1h-1zM18 30h1v1h-1zM18 35h1v1h-1zM18 36h1v1h-1zM18 39h1v1h-1zM18 40h1v1h-1zM18 44h1v1h-1zM18 47h1v1h-1zM18 51h1v1h-1zM18 55h1v1h-1zM18 56h1v1h-1zM18 58h1v1h-1zM19 0h1v1h-1zM19 2h1v1h-1zM19 3h1v1h-1zM19 4h1v1h-1zM19 7h1v1h-1zM19 8h1v1h-1zM19 10h1v1h-1zM19 13h1v1h-1zM19 17h1v1h-1zM19 19h1v1h-1zM19 22h1v1h-1zM19 26h1v1h-1zM19 40h1v1h-1zM19 45h1v1h-1zM19 56h1v1h-1zM19 58h1v1h-1zM20 1h1v1h-1zM20 8h1v1h-1zM20 9h1v1h-1zM20 13h1v1h-1zM20 14h1v1h-1zM20 15h1v1h-1zM20 19h1v1h-1zM20 33h1v1h-1zM20 36h1v1h-1zM20 37h1v1h-1zM20 50h1v1h-1zM20 52h1v1h-1zM20 54h1v1h-1zM20 58h1v1h-1zM21 2h1v1h-1zM21 8h1v1h-1zM21 12h1v1h-1zM21 14h1v1h-1zM21 17h1v1h-1zM21 27h1v1h-1zM21 35h1v1h-1zM21 39h1v1h-1zM21 44h1v1h-1zM21 47h1v1h-1zM21 51h1v1h-1zM21 53h1v1h-1zM21 58h1v1h-1zM22 4h1v1h-1zM22 8h1v1h-1zM22 10h1v1h-1zM22 17h1v1h-1zM22 18h1v1h-1zM22 20h1v1h-1zM22 23h1v1h-1zM22 24h1v1h-1zM22 33h1v1h-1zM22 36h1v1h-1zM22 38h1v1h-1zM22 45h1v1h-1zM22 46h1v1h-1zM22 49h1v1h-1zM22 50h1v1h-1zM22 53h1v1h-1zM22 54h1v1h-1zM22 57h1v1h-1zM23 0h1v1h-1zM23 2h1v1h-1zM23 3h1v1h-1zM23 4h1v1h-1zM23 5h1v1h-1zM23 11h1v1h-1zM23 22h1v1h-1zM23 25h1v1h-1zM23 30h1v1h-1zM23 31h1v1h-1zM23 32h1v1h-1zM23 36h1v1h-1zM23 39h1v1h-1zM23 43h1v1h-1zM23 45h1v1h-1zM23 51h1v1h-1zM23 54h1v1h-1zM24 1h1v1h-1zM24 5h1v1h-1zM24 7h1v1h-1zM24 8h1v1h-1zM24 10h1v1h-1zM24 11h1v1h-1zM24 17h1v1h-1zM24 19h1v1h-1zM24 20h1v1h-1zM24 21h1v1h-1zM24 26h1v1h-1zM24 28h1v1h-1zM24 30h1v1h-1zM24 37h1v1h-1zM24 39h1v1h-1zM24 40h1v1h-1zM24 42h1v1h-1zM24 43h1v1h-1zM24 46h1v1h-1zM24 47h1v1h-1zM25 0h1v1h-1zM25 2h1v1h-1zM25 3h1v1h-1zM25 6h1v1h-1zM25 7h1v1h-1zM25 13h1v1h-1zM25 14h1v1h-1zM25 16h1v1h-1zM25 19h1v1h-1zM25 21h1v1h-1zM25 22h1v1h-1zM25 26h1v1h-1zM25 27h1v1h-1zM25 31h1v1h-1zM25 34h1v1h-1zM25 38h1v1h-1zM25 41h1v1h-1zM25 46h1v1h-1zM25 50h1v1h-1zM25 52h1v1h-1zM26 3h1v1h-1zM26 4h1v1h-1zM26 11h1v1h-1zM26 19h1v1h-1zM26 20h1v1h-1zM26 26h1v1h-1zM26 30h1v1h-1zM26 33h1v1h-1zM26 35h1v1h-1zM26 38h1v1h-1zM26 43h1v1h-1zM26 44h1v1h-1zM26 46h1v1h-1zM26 47h1v1h-1zM26 52h1v1h-1zM26 53h1v1h-1zM27 0h1v1h-1zM27 4h1v1h-1zM27 5h1v1h-1zM27 10h1v1h-1zM27 12h1v1h-1zM27 16h1v1h-1zM27 21h1v1h-1zM27 23h1v1h-1zM27 30h1v1h-1zM27 31h1v1h-1zM27 32h1v1h-1zM27 36h1v1h-1zM27 38h1v1h-1zM27 42h1v1h-1zM27 45h1v1h-1zM27 46h1v1h-1zM27 49h1v1h-1zM27 56h1v1h-1zM27 58h1v1h-1zM28 0h1v1h-1zM28 6h1v1h-1zM28 7h1v1h-1zM28 12h1v1h-1zM28 17h1v1h-1zM28 18h1v1h-1zM28 22h1v1h-1zM28 27h1v1h-1zM28 29h1v1h-1zM28 32h1v1h-1zM28 35h1v1h-1zM28 37h1v1h-1zM28 40h1v1h-1zM28 41h1v1h-1zM28 42h1v1h-1zM28 45h1v1h-1zM28 46h1v1h-1zM28 48h1v1h-1zM29 4h1v1h-1zM29 5h1v1h-1zM29 12h1v1h-1zM29 14h1v1h-1zM29 16h1v1h-1zM29 21h1v1h-1zM29 24h1v1h-1zM29 28h1v1h-1zM29 31h1v1h-1zM29 34h1v1h-1zM29 37h1v1h-1zM29 38h1v1h-1zM29 49h1v1h-1zM29 55h1v1h-1zM30 5h1v1h-1zM30 9h1v1h-1zM30 16h1v1h-1zM30 21h1v1h-1zM30 28h1v1h-1zM30 30h1v1h-1zM30 33h1v1h-1zM30 35h1v1h-1zM30 41h1v1h-1zM30 46h1v1h-1zM30 50h1v1h-1zM30 53h1v1h-1zM30 56h1v1h-1zM30 58h1v1h-1zM31 3h1v1h-1zM31 9h1v1h-1zM31 13h1v1h-1zM31 14h1v1h-1zM31 20h1v1h-1zM31 21h1v1h-1zM31 23h1v1h-1zM31 24h1v1h-1zM31 28h1v1h-1zM31 29h1v1h-1zM31 32h1v1h-1zM31 36h1v1h-1zM31 43h1v1h-1zM31 44h1v1h-1zM31 45h1v1h-1zM31 47h1v1h-1zM31 51h1v1h-1zM31 52h1v1h-1zM31 55h1v1h-1zM31 57h1v1h-1zM32 0h1v1h-1zM32 1h1v1h-1zM32 12h1v1h-1zM32 14h1v1h-1zM32 17h1v1h-1zM32 20h1v1h-1zM32 24h1v1h-1zM32 30h1v1h-1zM32 39h1v1h-1zM32 42h1v1h-1zM32 47h1v1h-1zM32 51h1v1h-1zM32 52h1v1h-1zM32 53h1v1h-1zM32 58h1v1h-1zM33 0h1v1h-1zM33 2h1v1h-1zM33 5h1v1h-1zM33 9h1v1h-1zM33 10h1v1h-1zM33 11h1v1h-1zM33 17h1v1h-1zM33 18h1v1h-1zM33 19h1v1h-1zM33 20h1v1h-1zM33 22h1v1h-1zM33 23h1v1h-1zM33 25h1v1h-1zM33 26h1v1h-1zM33 30h1v1h-1zM33 32h1v1h-1zM33 33h1v1h-1zM33 37h1v1h-1zM33 41h1v1h-1zM33 45h1v1h-1zM33 48h1v1h-1zM33 50h1v1h-1zM33 53h1v1h-1zM33 56h1v1h-1zM33 57h1v1h-1zM34 2h1v1h-1zM34 8h1v1h-1zM34 14h1v1h-1zM34 24h1v1h-1zM34 38h1v1h-1zM34 41h1v1h-1zM34 42h1v1h-1zM34 47h1v1h-1zM34 50h1v1h-1zM34 58h1v1h-1zM35 3h1v1h-1zM35 7h1v1h-1zM35 9h1v1h-1zM35 10h1v1h-1zM35 11h1v1h-1zM35 15h1v1h-1zM35 19h1v1h-1zM35 21h1v1h-1zM35 26h1v1h-1zM35 36h1v1h-1zM35 42h1v1h-1zM35 45h1v1h-1zM35 50h1v1h-1zM35 51h1v1h-1zM35 53h1v1h-1zM35 54h1v1h-1zM35 55h1v1h-1zM35 57h1v1h-1zM35 58h1v1h-1zM36 3h1v1h-1zM36 7h1v1h-1zM36 8h1v1h-1zM36 12h1v1h-1zM36 20h1v1h-1zM36 24h1v1h-1zM36 25h1v1h-1zM36 27h1v1h-1zM36 28h1v1h-1zM36 33h1v1h-1zM36 34h1v1h-1zM36 44h1v1h-1zM36 54h1v1h-1zM37 6h1v1h-1zM37 8h1v1h-1zM37 11h1v1h-1zM37 15h1v1h-1zM37 29h1v1h-1zM37 30h1v1h-1zM37 33h1v1h-1zM37 42h1v1h-1zM37 43h1v1h-1zM37 46h1v1h-1zM37 47h1v1h-1zM37 55h1v1h-1zM38 1h1v1h-1zM38 4h1v1h-1zM38 8h1v1h-1zM38 10h1v1h-1zM38 14h1v1h-1zM38 20h1v1h-1zM38 22h1v1h-1zM38 25h1v1h-1zM38 32h1v1h-1zM38 33h1v1h-1zM38 37h1v1h-1zM38 39h1v1h-1zM38 41h1v1h-1zM38 42h1v1h-1zM38 44h1v1h-1zM38 50h1v1h-1zM38 56h1v1h-1zM38 58h1v1h-1zM39 2h1v1h-1zM39 6h1v1h-1zM39 7h1v1h-1zM39 9h1v1h-1zM39 11h1v1h-1zM39 13h1v1h-1zM39 14h1v1h-1zM39 15h1v1h-1zM39 18h1v1h-1zM39 20h1v1h-1zM39 22h1v1h-1zM39 23h1v1h-1zM39 24h1v1h-1zM39 30h1v1h-1zM39 39h1v1h-1zM39 44h1v1h-1zM39 46h1v1h-1zM39 48h1v1h-1zM39 53h1v1h-1zM39 55h1v1h-1zM40 5h1v1h-1zM40 14h1v1h-1zM40 18h1v1h-1zM40 20h1v1h-1zM40 26h1v1h-1zM40 32h1v1h-1zM40 34h1v1h-1zM40 37h1v1h-1zM40 44h1v1h-1zM40 52h1v1h-1zM40 53h1v1h-1zM40 57h1v1h-1zM41 1h1v1h-1zM41 6h1v1h-1zM41 7h1v1h-1zM41 10h1v1h-1zM41 12h1v1h-1zM41 17h1v1h-1zM41 20h1v1h-1zM41 23h1v1h-1zM41 24h1v1h-1zM41 25h1v1h-1zM41 28h1v1h-1zM41 30h1v1h-1zM41 32h1v1h-1zM41 40h1v1h-1zM41 45h1v1h-1zM41 53h1v1h-1zM41 54h1v1h-1zM41 55h1v1h-1zM41 58h1v1h-1zM42 0h1v1h-1zM42 2h1v1h-1zM42 6h1v1h-1zM42 7h1v1h-1zM42 10h1v1h-1zM42 12h1v1h-1zM42 16h1v1h-1zM42 28h1v1h-1zM42 29h1v1h-1zM42 33h1v1h-1zM42 34h1v1h-1zM42 45h1v1h-1zM42 48h1v1h-1zM42 53h1v1h-1zM42 56h1v1h-1zM42 57h1v1h-1zM43 11h1v1h-1zM43 24h1v1h-1zM43 25h1v1h-1zM43 31h1v1h-1zM43 33h1v1h-1zM43 38h1v1h-1zM43 40h1v1h-1zM43 45h1v1h-1zM44 1h1v1h-1zM44 7h1v1h-1zM44 8h1v1h-1zM44 10h1v1h-1zM44 13h1v1h-1zM44 16h1v1h-1zM44 19h1v1h-1zM44 20h1v1h-1zM44 22h1v1h-1zM44 25h1v1h-1zM44 29h1v1h-1zM44 34h1v1h-1zM44 36h1v1h-1zM44 38h1v1h-1zM44 42h1v1h-1zM44 44h1v1h-1zM44 48h1v1h-1zM44 54h1v1h-1zM44 58h1v1h-1zM45 3h1v1h-1zM45 5h1v1h-1zM45 6h1v1h-1zM45 13h1v1h-1zM45 20h1v1h-1zM45 28h1v1h-1zM45 30h1v1h-1zM45 31h1v1h-1zM45 32h1v1h-1zM45 35h1v1h-1zM45 38h1v1h-1zM45 41h1v1h-1zM45 43h1v1h-1zM45 44h1v1h-1zM45 49h1v1h-1zM45 51h1v1h-1zM45 52h1v1h-1zM45 53h1v1h-1zM45 55h1v1h-1zM45 56h1v1h-1zM46 2h1v1h-1zM46 3h1v1h-1zM46 5h1v1h-1zM46 8h1v1h-1zM46 10h1v1h-1zM46 16h1v1h-1zM46 17h1v1h-1zM46 22h1v1h-1zM46 23h1v1h-1zM46 37h1v1h-1zM46 50h1v1h-1zM46 55h1v1h-1zM47 4h1v1h-1zM47 9h1v1h-1zM47 15h1v1h-1zM47 18h1v1h-1zM47 19h1v1h-1zM47 28h1v1h-1zM47 29h1v1h-1zM47 30h1v1h-1zM47 33h1v1h-1zM47 37h1v1h-1zM47 40h1v1h-1zM47 41h1v1h-1zM47 48h1v1h-1zM47 54h1v1h-1zM47 58h1v1h-1zM48 0h1v1h-1zM48 5h1v1h-1zM48 15h1v1h-1zM48 18h1v1h-1zM48 19h1v1h-1zM48 26h1v1h-1zM48 28h1v1h-1zM48 33h1v1h-1zM48 38h1v1h-1zM48 40h1v1h-1zM48 42h1v1h-1zM48 45h1v1h-1zM48 48h1v1h-1zM48 51h1v1h-1zM49 6h1v1h-1zM49 7h1v1h-1zM49 8h1v1h-1zM49 12h1v1h-1zM49 17h1v1h-1zM49 19h1v1h-1zM49 24h1v1h-1zM49 32h1v1h-1zM49 33h1v1h-1zM49 36h1v1h-1zM49 39h1v1h-1zM49 51h1v1h-1zM49 53h1v1h-1zM49 55h1v1h-1zM49 57h1v1h-1zM50 0h1v1h-1zM50 1h1v1h-1zM50 2h1v1h-1zM50 6h1v1h-1zM50 7h1v1h-1zM50 9h1v1h-1zM50 13h1v1h-1zM50 17h1v1h-1zM50 28h1v1h-1zM50 31h1v1h-1zM50 32h1v1h-1zM50 34h1v1h-1zM50 43h1v1h-1zM50 44h1v1h-1zM50 47h1v1h-1zM50 48h1v1h-1zM50 56h1v1h-1zM51 8h1v1h-1zM51 9h1v1h-1zM51 10h1v1h-1zM51 12h1v1h-1zM51 14h1v1h-1zM51 18h1v1h-1zM51 19h1v1h-1zM51 23h1v1h-1zM51 32h1v1h-1zM51 34h1v1h-1zM51 40h1v1h-1zM51 49h1v1h-1zM51 52h1v1h-1zM51 56h1v1h-1zM51 58h1v1h-1zM52 3h1v1h-1zM52 4h1v1h-1zM52 11h1v1h-1zM52 14h1v1h-1zM52 17h1v1h-1zM52 20h1v1h-1zM52 23h1v1h-1zM52 26h1v1h-1zM52 31h1v1h-1zM52 34h1v1h-1zM52 35h1v1h-1zM52 37h1v1h-1zM52 43h1v1h-1zM52 45h1v1h-1zM52 51h1v1h-1zM52 56h1v1h-1zM52 57h1v1h-1zM53 1h1v1h-1zM53 4h1v1h-1zM53 5h1v1h-1zM53 8h1v1h-1zM53 10h1v1h-1zM53 12h1v1h-1zM53 16h1v1h-1zM53 18h1v1h-1zM53 21h1v1h-1zM53 23h1v1h-1zM53 24h1v1h-1zM53 25h1v1h-1zM53 27h1v1h-1zM53 28h1v1h-1zM53 31h1v1h-1zM53 43h1v1h-1zM53 44h1v1h-1zM53 45h1v1h-1zM53 47h1v1h-1zM53 53h1v1h-1zM53 56h1v1h-1zM53 58h1v1h-1zM54 0h1v1h-1zM54 1h1v1h-1zM54 7h1v1h-1zM54 18h1v1h-1zM54 19h1v1h-1zM54 20h1v1h-1zM54 26h1v1h-1zM54 28h1v1h-1zM54 36h1v1h-1zM54 42h1v1h-1zM54 49h1v1h-1zM54 50h1v1h-1zM54 55h1v1h-1zM54 57h1v1h-1zM54 58h1v1h-1zM55 2h1v1h-1zM55 4h1v1h-1zM55 6h1v1h-1zM55 14h1v1h-1zM55 19h1v1h-1zM55 20h1v1h-1zM55 23h1v1h-1zM55 31h1v1h-1zM55 39h1v1h-1zM55 41h1v1h-1zM55 43h1v1h-1zM55 46h1v1h-1zM55 54h1v1h-1zM55 55h1v1h-1zM55 58h1v1h-1zM56 6h1v1h-1zM56 9h1v1h-1zM56 11h1v1h-1zM56 17h1v1h-1zM56 21h1v1h-1zM56 22h1v1h-1zM56 27h1v1h-1zM56 28h1v1h-1zM56 30h1v1h-1zM56 32h1v1h-1zM56 35h1v1h-1zM56 36h1v1h-1zM56 37h1v1h-1zM56 41h1v1h-1zM56 43h1v1h-1zM56 44h1v1h-1zM56 45h1v1h-1zM56 51h1v1h-1zM56 53h1v1h-1zM56 55h1v1h-1zM56 58h1v1h-1zM57 2h1v1h-1zM57 7h1v1h-1zM57 9h1v1h-1zM57 14h1v1h-1zM57 15h1v1h-1zM57 18h1v1h-1zM57 19h1v1h-1zM57 21h1v1h-1zM57 22h1v1h-1zM57 24h1v1h-1zM57 26h1v1h-1zM57 40h1v1h-1zM57 41h1v1h-1zM57 43h1v1h-1zM57 47h1v1h-1zM57 54h1v1h-1zM57 58h1v1h-1zM58 0h1v1h-1zM58 1h1v1h-1zM58 4h1v1h-1zM58 6h1v1h-1zM58 8h1v1h-1zM58 11h1v1h-1zM58 12h1v1h-1zM58 15h1v1h-1zM58 19h1v1h-1zM58 20h1v1h-1zM58 21h1v1h-1zM58 24h1v1h-1zM58 26h1v1h-1zM58 29h1v1h-1zM58 31h1v1h-1zM58 42h1v1h-1zM58 44h1v1h-1zM58 46h1v1h-1zM58 50h1v1h-1zM58 51h1v1h-1zM58 55h1v1h-1zM58 58h1v1h-1zM59 2h1v1h-1zM59 11h1v1h-1zM59 20h1v1h-1zM59 22h1v1h-1zM59 23h1v1h-1zM59 27h1v1h-1zM59 30h1v1h-1zM59 31h1v1h-1zM59 32h1v1h-1zM59 34h1v1h-1zM59 39h1v1h-1zM59 43h1v1h-1zM59 44h1v1h-1zM59 45h1v1h-1zM59 49h1v1h-1zM59 56h1v1h-1zM60 3h1v1h-1zM60 7h1v1h-1zM60 8h1v1h-1zM60 9h1v1h-1zM60 10h1v1h-1zM60 12h1v1h-1zM60 13h1v1h-1zM60 14h1v1h-1zM60 16h1v1h-1zM60 18h1v1h-1zM60 25h1v1h-1zM60 26h1v1h-1zM60 28h1v1h-1zM60 30h1v1h-1zM60 41h1v1h-1zM60 42h1v1h-1zM60 44h1v1h-1zM60 45h1v1h-1zM60 46h1v1h-1zM60 47h1v1h-1zM60 50h1v1h-1zM60 55h1v1h-1zM60 56h1v1h-1z" fill="#000"/></pattern><pattern id="sk2" patternUnits="userSpaceOnUse" width="47" height="67" patternTransform="translate(327.10 366.65) scale(3.7050 4.2167)"><path d="M0 1h1v1h-1zM0 16h1v1h-1zM0 19h1v1h-1zM0 23h1v1h-1zM0 29h1v1h-1zM0 34h1v1h-1zM0 37h1v1h-1zM0 43h1v1h-1zM0 45h1v1h-1zM0 47h1v1h-1zM0 52h1v1h-1zM0 56h1v1h-1zM0 62h1v1h-1zM1 2h1v1h-1zM1 9h1v1h-1zM1 10h1v1h-1zM1 11h1v1h-1zM1 15h1v1h-1zM1 18h1v1h-1zM1 19h1v1h-1zM1 21h1v1h-1zM1 24h1v1h-1zM1 25h1v1h-1zM1 26h1v1h-1zM1 27h1v1h-1zM1 29h1v1h-1zM1 31h1v1h-1zM1 33h1v1h-1zM1 34h1v1h-1zM1 35h1v1h-1zM1 41h1v1h-1zM1 47h1v1h-1zM1 49h1v1h-1zM1 53h1v1h-1zM1 54h1v1h-1zM1 58h1v1h-1zM2 0h1v1h-1zM2 3h1v1h-1zM2 6h1v1h-1zM2 9h1v1h-1zM2 14h1v1h-1zM2 17h1v1h-1zM2 18h1v1h-1zM2 31h1v1h-1zM2 42h1v1h-1zM2 51h1v1h-1zM2 53h1v1h-1zM2 58h1v1h-1zM2 59h1v1h-1zM2 61h1v1h-1zM2 62h1v1h-1zM2 63h1v1h-1zM3 1h1v1h-1zM3 8h1v1h-1zM3 10h1v1h-1zM3 14h1v1h-1zM3 15h1v1h-1zM3 16h1v1h-1zM3 17h1v1h-1zM3 18h1v1h-1zM3 19h1v1h-1zM3 21h1v1h-1zM3 25h1v1h-1zM3 31h1v1h-1zM3 32h1v1h-1zM3 42h1v1h-1zM3 44h1v1h-1zM3 46h1v1h-1zM3 47h1v1h-1zM3 48h1v1h-1zM3 55h1v1h-1zM3 57h1v1h-1zM3 58h1v1h-1zM3 63h1v1h-1zM4 0h1v1h-1zM4 4h1v1h-1zM4 8h1v1h-1zM4 14h1v1h-1zM4 17h1v1h-1zM4 18h1v1h-1zM4 22h1v1h-1zM4 25h1v1h-1zM4 27h1v1h-1zM4 29h1v1h-1zM4 33h1v1h-1zM4 37h1v1h-1zM4 39h1v1h-1zM4 40h1v1h-1zM4 41h1v1h-1zM4 42h1v1h-1zM4 45h1v1h-1zM4 50h1v1h-1zM4 56h1v1h-1zM4 62h1v1h-1zM4 66h1v1h-1zM5 8h1v1h-1zM5 10h1v1h-1zM5 15h1v1h-1zM5 16h1v1h-1zM5 20h1v1h-1zM5 21h1v1h-1zM5 22h1v1h-1zM5 25h1v1h-1zM5 30h1v1h-1zM5 31h1v1h-1zM5 33h1v1h-1zM5 34h1v1h-1zM5 35h1v1h-1zM5 40h1v1h-1zM5 41h1v1h-1zM5 44h1v1h-1zM5 49h1v1h-1zM5 50h1v1h-1zM5 55h1v1h-1zM5 56h1v1h-1zM5 66h1v1h-1zM6 9h1v1h-1zM6 13h1v1h-1zM6 14h1v1h-1zM6 22h1v1h-1zM6 23h1v1h-1zM6 24h1v1h-1zM6 27h1v1h-1zM6 29h1v1h-1zM6 37h1v1h-1zM6 38h1v1h-1zM6 39h1v1h-1zM6 42h1v1h-1zM6 58h1v1h-1zM6 66h1v1h-1zM7 3h1v1h-1zM7 14h1v1h-1zM7 15h1v1h-1zM7 22h1v1h-1zM7 25h1v1h-1zM7 26h1v1h-1zM7 27h1v1h-1zM7 36h1v1h-1zM7 38h1v1h-1zM7 41h1v1h-1zM7 42h1v1h-1zM7 43h1v1h-1zM7 56h1v1h-1zM7 60h1v1h-1zM7 64h1v1h-1zM8 0h1v1h-1zM8 1h1v1h-1zM8 7h1v1h-1zM8 17h1v1h-1zM8 19h1v1h-1zM8 21h1v1h-1zM8 25h1v1h-1zM8 31h1v1h-1zM8 38h1v1h-1zM8 41h1v1h-1zM8 44h1v1h-1zM8 55h1v1h-1zM8 58h1v1h-1zM8 61h1v1h-1zM8 63h1v1h-1zM8 66h1v1h-1zM9 0h1v1h-1zM9 1h1v1h-1zM9 4h1v1h-1zM9 7h1v1h-1zM9 9h1v1h-1zM9 11h1v1h-1zM9 12h1v1h-1zM9 13h1v1h-1zM9 20h1v1h-1zM9 21h1v1h-1zM9 23h1v1h-1zM9 26h1v1h-1zM9 28h1v1h-1zM9 33h1v1h-1zM9 34h1v1h-1zM9 43h1v1h-1zM9 44h1v1h-1zM9 45h1v1h-1zM9 50h1v1h-1zM9 52h1v1h-1zM9 57h1v1h-1zM9 59h1v1h-1zM9 61h1v1h-1zM9 64h1v1h-1zM9 66h1v1h-1zM10 0h1v1h-1zM10 4h1v1h-1zM10 8h1v1h-1zM10 9h1v1h-1zM10 14h1v1h-1zM10 15h1v1h-1zM10 18h1v1h-1zM10 22h1v1h-1zM10 23h1v1h-1zM10 25h1v1h-1zM10 26h1v1h-1zM10 30h1v1h-1zM10 40h1v1h-1zM10 43h1v1h-1zM10 44h1v1h-1zM10 47h1v1h-1zM10 48h1v1h-1zM10 49h1v1h-1zM10 50h1v1h-1zM10 51h1v1h-1zM10 53h1v1h-1zM10 55h1v1h-1zM10 56h1v1h-1zM10 61h1v1h-1zM11 0h1v1h-1zM11 3h1v1h-1zM11 4h1v1h-1zM11 6h1v1h-1zM11 9h1v1h-1zM11 10h1v1h-1zM11 11h1v1h-1zM11 12h1v1h-1zM11 15h1v1h-1zM11 21h1v1h-1zM11 23h1v1h-1zM11 25h1v1h-1zM11 31h1v1h-1zM11 33h1v1h-1zM11 41h1v1h-1zM11 45h1v1h-1zM11 46h1v1h-1zM11 47h1v1h-1zM11 48h1v1h-1zM11 52h1v1h-1zM11 54h1v1h-1zM11 56h1v1h-1zM11 58h1v1h-1zM11 59h1v1h-1zM11 61h1v1h-1zM11 62h1v1h-1zM11 64h1v1h-1zM11 65h1v1h-1zM12 10h1v1h-1zM12 12h1v1h-1zM12 18h1v1h-1zM12 30h1v1h-1zM12 33h1v1h-1zM12 35h1v1h-1zM12 39h1v1h-1zM12 40h1v1h-1zM12 42h1v1h-1zM12 43h1v1h-1zM12 45h1v1h-1zM12 46h1v1h-1zM12 47h1v1h-1zM12 49h1v1h-1zM12 53h1v1h-1zM12 55h1v1h-1zM12 56h1v1h-1zM12 58h1v1h-1zM12 62h1v1h-1zM12 63h1v1h-1zM13 0h1v1h-1zM13 4h1v1h-1zM13 9h1v1h-1zM13 14h1v1h-1zM13 20h1v1h-1zM13 21h1v1h-1zM13 22h1v1h-1zM13 23h1v1h-1zM13 26h1v1h-1zM13 27h1v1h-1zM13 42h1v1h-1zM13 46h1v1h-1zM13 48h1v1h-1zM13 59h1v1h-1zM14 3h1v1h-1zM14 6h1v1h-1zM14 10h1v1h-1zM14 11h1v1h-1zM14 12h1v1h-1zM14 13h1v1h-1zM14 18h1v1h-1zM14 21h1v1h-1zM14 23h1v1h-1zM14 24h1v1h-1zM14 27h1v1h-1zM14 29h1v1h-1zM14 30h1v1h-1zM14 33h1v1h-1zM14 35h1v1h-1zM14 40h1v1h-1zM14 44h1v1h-1zM14 55h1v1h-1zM14 56h1v1h-1zM14 59h1v1h-1zM14 61h1v1h-1zM14 62h1v1h-1zM14 64h1v1h-1zM14 65h1v1h-1zM15 0h1v1h-1zM15 3h1v1h-1zM15 6h1v1h-1zM15 8h1v1h-1zM15 13h1v1h-1zM15 16h1v1h-1zM15 20h1v1h-1zM15 21h1v1h-1zM15 26h1v1h-1zM15 28h1v1h-1zM15 37h1v1h-1zM15 38h1v1h-1zM15 39h1v1h-1zM15 43h1v1h-1zM15 45h1v1h-1zM15 52h1v1h-1zM15 55h1v1h-1zM15 58h1v1h-1zM15 60h1v1h-1zM15 61h1v1h-1zM15 64h1v1h-1zM16 0h1v1h-1zM16 6h1v1h-1zM16 10h1v1h-1zM16 11h1v1h-1zM16 13h1v1h-1zM16 20h1v1h-1zM16 23h1v1h-1zM16 34h1v1h-1zM16 35h1v1h-1zM16 37h1v1h-1zM16 38h1v1h-1zM16 40h1v1h-1zM16 41h1v1h-1zM16 47h1v1h-1zM16 48h1v1h-1zM16 51h1v1h-1zM16 52h1v1h-1zM16 54h1v1h-1zM16 57h1v1h-1zM16 59h1v1h-1zM16 60h1v1h-1zM16 61h1v1h-1zM16 65h1v1h-1zM17 3h1v1h-1zM17 8h1v1h-1zM17 10h1v1h-1zM17 24h1v1h-1zM17 26h1v1h-1zM17 27h1v1h-1zM17 31h1v1h-1zM17 44h1v1h-1zM17 51h1v1h-1zM17 56h1v1h-1zM17 60h1v1h-1zM18 6h1v1h-1zM18 7h1v1h-1zM18 8h1v1h-1zM18 9h1v1h-1zM18 10h1v1h-1zM18 11h1v1h-1zM18 15h1v1h-1zM18 19h1v1h-1zM18 24h1v1h-1zM18 34h1v1h-1zM18 38h1v1h-1zM18 42h1v1h-1zM18 43h1v1h-1zM18 46h1v1h-1zM18 47h1v1h-1zM18 52h1v1h-1zM18 53h1v1h-1zM18 57h1v1h-1zM18 59h1v1h-1zM18 62h1v1h-1zM18 65h1v1h-1zM19 8h1v1h-1zM19 17h1v1h-1zM19 23h1v1h-1zM19 24h1v1h-1zM19 27h1v1h-1zM19 28h1v1h-1zM19 37h1v1h-1zM19 38h1v1h-1zM19 39h1v1h-1zM19 41h1v1h-1zM19 44h1v1h-1zM19 46h1v1h-1zM19 47h1v1h-1zM19 48h1v1h-1zM19 49h1v1h-1zM19 55h1v1h-1zM19 56h1v1h-1zM19 61h1v1h-1zM19 65h1v1h-1zM19 66h1v1h-1zM20 4h1v1h-1zM20 10h1v1h-1zM20 15h1v1h-1zM20 22h1v1h-1zM20 27h1v1h-1zM20 29h1v1h-1zM20 42h1v1h-1zM20 45h1v1h-1zM20 47h1v1h-1zM20 48h1v1h-1zM20 49h1v1h-1zM20 54h1v1h-1zM20 59h1v1h-1zM20 61h1v1h-1zM20 62h1v1h-1zM20 65h1v1h-1zM21 4h1v1h-1zM21 5h1v1h-1zM21 13h1v1h-1zM21 16h1v1h-1zM21 18h1v1h-1zM21 19h1v1h-1zM21 39h1v1h-1zM21 44h1v1h-1zM21 47h1v1h-1zM21 49h1v1h-1zM21 51h1v1h-1zM21 52h1v1h-1zM21 54h1v1h-1zM21 56h1v1h-1zM21 59h1v1h-1zM21 60h1v1h-1zM21 61h1v1h-1zM21 63h1v1h-1zM22 7h1v1h-1zM22 12h1v1h-1zM22 17h1v1h-1zM22 20h1v1h-1zM22 32h1v1h-1zM22 45h1v1h-1zM22 46h1v1h-1zM22 47h1v1h-1zM22 49h1v1h-1zM22 50h1v1h-1zM22 54h1v1h-1zM22 58h1v1h-1zM22 61h1v1h-1zM22 62h1v1h-1zM23 0h1v1h-1zM23 1h1v1h-1zM23 2h1v1h-1zM23 5h1v1h-1zM23 9h1v1h-1zM23 16h1v1h-1zM23 19h1v1h-1zM23 20h1v1h-1zM23 21h1v1h-1zM23 24h1v1h-1zM23 27h1v1h-1zM23 29h1v1h-1zM23 32h1v1h-1zM23 34h1v1h-1zM23 36h1v1h-1zM23 43h1v1h-1zM23 50h1v1h-1zM23 54h1v1h-1zM23 62h1v1h-1zM23 65h1v1h-1zM24 1h1v1h-1zM24 6h1v1h-1zM24 10h1v1h-1zM24 11h1v1h-1zM24 14h1v1h-1zM24 16h1v1h-1zM24 19h1v1h-1zM24 20h1v1h-1zM24 21h1v1h-1zM24 24h1v1h-1zM24 25h1v1h-1zM24 37h1v1h-1zM24 38h1v1h-1zM24 39h1v1h-1zM24 40h1v1h-1zM24 43h1v1h-1zM24 47h1v1h-1zM24 50h1v1h-1zM24 53h1v1h-1zM24 59h1v1h-1zM24 60h1v1h-1zM25 4h1v1h-1zM25 8h1v1h-1zM25 9h1v1h-1zM25 12h1v1h-1zM25 13h1v1h-1zM25 18h1v1h-1zM25 22h1v1h-1zM25 28h1v1h-1zM25 36h1v1h-1zM25 38h1v1h-1zM25 49h1v1h-1zM25 52h1v1h-1zM25 53h1v1h-1zM25 55h1v1h-1zM25 56h1v1h-1zM25 57h1v1h-1zM25 62h1v1h-1zM25 63h1v1h-1zM26 4h1v1h-1zM26 20h1v1h-1zM26 25h1v1h-1zM26 26h1v1h-1zM26 28h1v1h-1zM26 31h1v1h-1zM26 32h1v1h-1zM26 39h1v1h-1zM26 40h1v1h-1zM26 49h1v1h-1zM26 50h1v1h-1zM26 51h1v1h-1zM27 2h1v1h-1zM27 10h1v1h-1zM27 11h1v1h-1zM27 12h1v1h-1zM27 19h1v1h-1zM27 20h1v1h-1zM27 23h1v1h-1zM27 24h1v1h-1zM27 28h1v1h-1zM27 29h1v1h-1zM27 34h1v1h-1zM27 40h1v1h-1zM27 44h1v1h-1zM27 48h1v1h-1zM27 52h1v1h-1zM27 53h1v1h-1zM27 56h1v1h-1zM27 58h1v1h-1zM27 66h1v1h-1zM28 11h1v1h-1zM28 13h1v1h-1zM28 14h1v1h-1zM28 17h1v1h-1zM28 20h1v1h-1zM28 22h1v1h-1zM28 29h1v1h-1zM28 33h1v1h-1zM28 46h1v1h-1zM28 52h1v1h-1zM28 62h1v1h-1zM28 64h1v1h-1zM29 5h1v1h-1zM29 13h1v1h-1zM29 14h1v1h-1zM29 19h1v1h-1zM29 20h1v1h-1zM29 21h1v1h-1zM29 23h1v1h-1zM29 25h1v1h-1zM29 27h1v1h-1zM29 30h1v1h-1zM29 36h1v1h-1zM29 45h1v1h-1zM29 47h1v1h-1zM29 51h1v1h-1zM29 55h1v1h-1zM29 61h1v1h-1zM30 6h1v1h-1zM30 7h1v1h-1zM30 18h1v1h-1zM30 23h1v1h-1zM30 25h1v1h-1zM30 27h1v1h-1zM30 30h1v1h-1zM30 32h1v1h-1zM30 33h1v1h-1zM30 34h1v1h-1zM30 36h1v1h-1zM30 40h1v1h-1zM30 41h1v1h-1zM30 43h1v1h-1zM30 54h1v1h-1zM30 58h1v1h-1zM30 63h1v1h-1zM30 65h1v1h-1zM30 66h1v1h-1zM31 10h1v1h-1zM31 24h1v1h-1zM31 36h1v1h-1zM31 41h1v1h-1zM31 45h1v1h-1zM31 49h1v1h-1zM31 54h1v1h-1zM31 57h1v1h-1zM31 58h1v1h-1zM31 60h1v1h-1zM31 61h1v1h-1zM31 62h1v1h-1zM31 64h1v1h-1zM32 1h1v1h-1zM32 2h1v1h-1zM32 3h1v1h-1zM32 5h1v1h-1zM32 7h1v1h-1zM32 13h1v1h-1zM32 15h1v1h-1zM32 25h1v1h-1zM32 26h1v1h-1zM32 32h1v1h-1zM32 37h1v1h-1zM32 41h1v1h-1zM32 48h1v1h-1zM32 49h1v1h-1zM32 58h1v1h-1zM32 59h1v1h-1zM32 62h1v1h-1zM32 64h1v1h-1zM32 66h1v1h-1zM33 0h1v1h-1zM33 6h1v1h-1zM33 7h1v1h-1zM33 16h1v1h-1zM33 20h1v1h-1zM33 30h1v1h-1zM33 33h1v1h-1zM33 39h1v1h-1zM33 44h1v1h-1zM33 48h1v1h-1zM33 55h1v1h-1zM33 63h1v1h-1zM33 65h1v1h-1zM34 2h1v1h-1zM34 5h1v1h-1zM34 7h1v1h-1zM34 8h1v1h-1zM34 10h1v1h-1zM34 11h1v1h-1zM34 14h1v1h-1zM34 15h1v1h-1zM34 16h1v1h-1zM34 18h1v1h-1zM34 21h1v1h-1zM34 26h1v1h-1zM34 35h1v1h-1zM34 41h1v1h-1zM34 47h1v1h-1zM34 53h1v1h-1zM34 56h1v1h-1zM34 63h1v1h-1zM34 66h1v1h-1zM35 1h1v1h-1zM35 8h1v1h-1zM35 12h1v1h-1zM35 14h1v1h-1zM35 21h1v1h-1zM35 31h1v1h-1zM35 32h1v1h-1zM35 33h1v1h-1zM35 34h1v1h-1zM35 36h1v1h-1zM35 49h1v1h-1zM35 51h1v1h-1zM35 55h1v1h-1zM35 57h1v1h-1zM35 60h1v1h-1zM36 3h1v1h-1zM36 4h1v1h-1zM36 10h1v1h-1zM36 12h1v1h-1zM36 14h1v1h-1zM36 16h1v1h-1zM36 20h1v1h-1zM36 22h1v1h-1zM36 23h1v1h-1zM36 25h1v1h-1zM36 28h1v1h-1zM36 29h1v1h-1zM36 34h1v1h-1zM36 37h1v1h-1zM36 38h1v1h-1zM36 49h1v1h-1zM36 51h1v1h-1zM36 52h1v1h-1zM36 53h1v1h-1zM36 54h1v1h-1zM36 57h1v1h-1zM36 58h1v1h-1zM36 63h1v1h-1zM36 66h1v1h-1zM37 1h1v1h-1zM37 3h1v1h-1zM37 5h1v1h-1zM37 9h1v1h-1zM37 21h1v1h-1zM37 25h1v1h-1zM37 28h1v1h-1zM37 29h1v1h-1zM37 34h1v1h-1zM37 53h1v1h-1zM37 55h1v1h-1zM37 56h1v1h-1zM37 61h1v1h-1zM37 62h1v1h-1zM37 63h1v1h-1zM38 2h1v1h-1zM38 3h1v1h-1zM38 4h1v1h-1zM38 6h1v1h-1zM38 9h1v1h-1zM38 14h1v1h-1zM38 18h1v1h-1zM38 22h1v1h-1zM38 25h1v1h-1zM38 35h1v1h-1zM38 39h1v1h-1zM38 42h1v1h-1zM38 50h1v1h-1zM38 56h1v1h-1zM38 57h1v1h-1zM38 63h1v1h-1zM38 64h1v1h-1zM38 65h1v1h-1zM39 1h1v1h-1zM39 7h1v1h-1zM39 10h1v1h-1zM39 15h1v1h-1zM39 17h1v1h-1zM39 20h1v1h-1zM39 21h1v1h-1zM39 29h1v1h-1zM39 31h1v1h-1zM39 34h1v1h-1zM39 35h1v1h-1zM39 49h1v1h-1zM39 51h1v1h-1zM39 56h1v1h-1zM39 59h1v1h-1zM39 65h1v1h-1zM39 66h1v1h-1zM40 1h1v1h-1zM40 3h1v1h-1zM40 6h1v1h-1zM40 8h1v1h-1zM40 10h1v1h-1zM40 28h1v1h-1zM40 29h1v1h-1zM40 30h1v1h-1zM40 36h1v1h-1zM40 38h1v1h-1zM40 40h1v1h-1zM40 43h1v1h-1zM40 44h1v1h-1zM40 46h1v1h-1zM40 51h1v1h-1zM40 52h1v1h-1zM40 53h1v1h-1zM40 55h1v1h-1zM40 57h1v1h-1zM40 58h1v1h-1zM40 60h1v1h-1zM41 5h1v1h-1zM41 6h1v1h-1zM41 9h1v1h-1zM41 18h1v1h-1zM41 20h1v1h-1zM41 25h1v1h-1zM41 27h1v1h-1zM41 28h1v1h-1zM41 31h1v1h-1zM41 33h1v1h-1zM41 34h1v1h-1zM41 35h1v1h-1zM41 39h1v1h-1zM41 44h1v1h-1zM41 45h1v1h-1zM41 47h1v1h-1zM41 55h1v1h-1zM41 57h1v1h-1zM41 65h1v1h-1zM41 66h1v1h-1zM42 4h1v1h-1zM42 15h1v1h-1zM42 20h1v1h-1zM42 22h1v1h-1zM42 24h1v1h-1zM42 25h1v1h-1zM42 26h1v1h-1zM42 30h1v1h-1zM42 31h1v1h-1zM42 35h1v1h-1zM42 37h1v1h-1zM42 43h1v1h-1zM42 49h1v1h-1zM42 53h1v1h-1zM42 54h1v1h-1zM42 60h1v1h-1zM43 4h1v1h-1zM43 7h1v1h-1zM43 14h1v1h-1zM43 15h1v1h-1zM43 31h1v1h-1zM43 40h1v1h-1zM43 42h1v1h-1zM43 46h1v1h-1zM43 50h1v1h-1zM43 54h1v1h-1zM43 55h1v1h-1zM43 56h1v1h-1zM43 61h1v1h-1zM43 62h1v1h-1zM43 66h1v1h-1zM44 1h1v1h-1zM44 5h1v1h-1zM44 9h1v1h-1zM44 14h1v1h-1zM44 23h1v1h-1zM44 24h1v1h-1zM44 27h1v1h-1zM44 31h1v1h-1zM44 33h1v1h-1zM44 45h1v1h-1zM44 46h1v1h-1zM44 47h1v1h-1zM44 53h1v1h-1zM44 57h1v1h-1zM44 60h1v1h-1zM45 3h1v1h-1zM45 5h1v1h-1zM45 10h1v1h-1zM45 20h1v1h-1zM45 29h1v1h-1zM45 33h1v1h-1zM45 37h1v1h-1zM45 41h1v1h-1zM45 48h1v1h-1zM45 50h1v1h-1zM45 55h1v1h-1zM45 60h1v1h-1zM45 62h1v1h-1zM45 63h1v1h-1zM46 3h1v1h-1zM46 5h1v1h-1zM46 14h1v1h-1zM46 23h1v1h-1zM46 25h1v1h-1zM46 28h1v1h-1zM46 33h1v1h-1zM46 38h1v1h-1zM46 39h1v1h-1zM46 44h1v1h-1zM46 45h1v1h-1zM46 50h1v1h-1zM46 51h1v1h-1zM46 54h1v1h-1zM46 58h1v1h-1zM46 61h1v1h-1zM46 62h1v1h-1zM46 65h1v1h-1zM46 66h1v1h-1z" fill="#000"/></pattern><pattern id="sk3" patternUnits="userSpaceOnUse" width="43" height="53" patternTransform="translate(327.10 366.65) scale(3.7050 4.2167)"><path d="M0 0h1v1h-1zM0 1h1v1h-1zM0 4h1v1h-1zM0 9h1v1h-1zM0 12h1v1h-1zM0 14h1v1h-1zM0 19h1v1h-1zM0 22h1v1h-1zM0 23h1v1h-1zM0 26h1v1h-1zM0 28h1v1h-1zM0 31h1v1h-1zM0 34h1v1h-1zM0 36h1v1h-1zM0 37h1v1h-1zM0 39h1v1h-1zM0 50h1v1h-1zM0 51h1v1h-1zM1 1h1v1h-1zM1 5h1v1h-1zM1 7h1v1h-1zM1 10h1v1h-1zM1 12h1v1h-1zM1 13h1v1h-1zM1 16h1v1h-1zM1 17h1v1h-1zM1 22h1v1h-1zM1 25h1v1h-1zM1 27h1v1h-1zM1 28h1v1h-1zM1 31h1v1h-1zM1 32h1v1h-1zM1 33h1v1h-1zM1 34h1v1h-1zM1 37h1v1h-1zM1 41h1v1h-1zM1 44h1v1h-1zM1 45h1v1h-1zM1 47h1v1h-1zM1 48h1v1h-1zM1 49h1v1h-1zM1 51h1v1h-1zM1 52h1v1h-1zM2 2h1v1h-1zM2 6h1v1h-1zM2 15h1v1h-1zM2 16h1v1h-1zM2 18h1v1h-1zM2 25h1v1h-1zM2 31h1v1h-1zM2 44h1v1h-1zM2 46h1v1h-1zM2 49h1v1h-1zM3 0h1v1h-1zM3 7h1v1h-1zM3 8h1v1h-1zM3 20h1v1h-1zM3 23h1v1h-1zM3 26h1v1h-1zM3 29h1v1h-1zM3 37h1v1h-1zM3 38h1v1h-1zM3 40h1v1h-1zM3 44h1v1h-1zM3 46h1v1h-1zM3 52h1v1h-1zM4 0h1v1h-1zM4 5h1v1h-1zM4 7h1v1h-1zM4 9h1v1h-1zM4 10h1v1h-1zM4 12h1v1h-1zM4 16h1v1h-1zM4 21h1v1h-1zM4 31h1v1h-1zM4 37h1v1h-1zM4 39h1v1h-1zM4 40h1v1h-1zM4 42h1v1h-1zM4 43h1v1h-1zM4 44h1v1h-1zM4 47h1v1h-1zM4 49h1v1h-1zM5 6h1v1h-1zM5 7h1v1h-1zM5 9h1v1h-1zM5 10h1v1h-1zM5 11h1v1h-1zM5 12h1v1h-1zM5 17h1v1h-1zM5 18h1v1h-1zM5 36h1v1h-1zM5 38h1v1h-1zM5 40h1v1h-1zM5 43h1v1h-1zM5 47h1v1h-1zM5 50h1v1h-1zM6 1h1v1h-1zM6 10h1v1h-1zM6 11h1v1h-1zM6 13h1v1h-1zM6 16h1v1h-1zM6 23h1v1h-1zM6 27h1v1h-1zM6 29h1v1h-1zM6 30h1v1h-1zM6 36h1v1h-1zM6 41h1v1h-1zM6 46h1v1h-1zM6 50h1v1h-1zM7 0h1v1h-1zM7 2h1v1h-1zM7 11h1v1h-1zM7 12h1v1h-1zM7 15h1v1h-1zM7 19h1v1h-1zM7 20h1v1h-1zM7 21h1v1h-1zM7 23h1v1h-1zM7 33h1v1h-1zM7 35h1v1h-1zM7 40h1v1h-1zM7 41h1v1h-1zM7 43h1v1h-1zM7 49h1v1h-1zM8 2h1v1h-1zM8 8h1v1h-1zM8 13h1v1h-1zM8 14h1v1h-1zM8 16h1v1h-1zM8 26h1v1h-1zM8 28h1v1h-1zM8 29h1v1h-1zM8 33h1v1h-1zM8 37h1v1h-1zM8 42h1v1h-1zM8 50h1v1h-1zM8 51h1v1h-1zM9 0h1v1h-1zM9 6h1v1h-1zM9 10h1v1h-1zM9 13h1v1h-1zM9 14h1v1h-1zM9 18h1v1h-1zM9 21h1v1h-1zM9 26h1v1h-1zM9 27h1v1h-1zM9 30h1v1h-1zM9 31h1v1h-1zM9 34h1v1h-1zM9 35h1v1h-1zM9 40h1v1h-1zM9 41h1v1h-1zM9 44h1v1h-1zM9 45h1v1h-1zM9 47h1v1h-1zM10 0h1v1h-1zM10 1h1v1h-1zM10 3h1v1h-1zM10 5h1v1h-1zM10 6h1v1h-1zM10 11h1v1h-1zM10 18h1v1h-1zM10 21h1v1h-1zM10 25h1v1h-1zM10 29h1v1h-1zM10 31h1v1h-1zM10 32h1v1h-1zM10 41h1v1h-1zM10 47h1v1h-1zM10 49h1v1h-1zM10 50h1v1h-1zM10 51h1v1h-1zM11 9h1v1h-1zM11 17h1v1h-1zM11 19h1v1h-1zM11 24h1v1h-1zM11 28h1v1h-1zM11 29h1v1h-1zM11 33h1v1h-1zM11 34h1v1h-1zM11 39h1v1h-1zM11 43h1v1h-1zM11 45h1v1h-1zM11 48h1v1h-1zM11 49h1v1h-1zM12 0h1v1h-1zM12 5h1v1h-1zM12 12h1v1h-1zM12 19h1v1h-1zM12 21h1v1h-1zM12 24h1v1h-1zM12 27h1v1h-1zM12 34h1v1h-1zM12 40h1v1h-1zM12 41h1v1h-1zM12 43h1v1h-1zM12 45h1v1h-1zM12 49h1v1h-1zM12 52h1v1h-1zM13 11h1v1h-1zM13 13h1v1h-1zM13 32h1v1h-1zM13 33h1v1h-1zM13 35h1v1h-1zM13 36h1v1h-1zM13 38h1v1h-1zM13 42h1v1h-1zM13 43h1v1h-1zM13 47h1v1h-1zM13 50h1v1h-1zM13 51h1v1h-1zM14 4h1v1h-1zM14 23h1v1h-1zM14 25h1v1h-1zM14 27h1v1h-1zM14 32h1v1h-1zM14 33h1v1h-1zM14 34h1v1h-1zM14 49h1v1h-1zM14 50h1v1h-1zM14 52h1v1h-1zM15 0h1v1h-1zM15 1h1v1h-1zM15 3h1v1h-1zM15 5h1v1h-1zM15 6h1v1h-1zM15 7h1v1h-1zM15 10h1v1h-1zM15 11h1v1h-1zM15 14h1v1h-1zM15 16h1v1h-1zM15 18h1v1h-1zM15 23h1v1h-1zM15 26h1v1h-1zM15 32h1v1h-1zM15 37h1v1h-1zM15 43h1v1h-1zM15 44h1v1h-1zM15 45h1v1h-1zM15 50h1v1h-1zM15 51h1v1h-1zM16 0h1v1h-1zM16 1h1v1h-1zM16 6h1v1h-1zM16 8h1v1h-1zM16 9h1v1h-1zM16 15h1v1h-1zM16 22h1v1h-1zM16 23h1v1h-1zM16 24h1v1h-1zM16 28h1v1h-1zM16 30h1v1h-1zM16 31h1v1h-1zM16 40h1v1h-1zM16 44h1v1h-1zM17 5h1v1h-1zM17 7h1v1h-1zM17 10h1v1h-1zM17 11h1v1h-1zM17 12h1v1h-1zM17 13h1v1h-1zM17 14h1v1h-1zM17 16h1v1h-1zM17 20h1v1h-1zM17 22h1v1h-1zM17 27h1v1h-1zM17 30h1v1h-1zM17 35h1v1h-1zM17 37h1v1h-1zM17 39h1v1h-1zM17 40h1v1h-1zM17 41h1v1h-1zM17 42h1v1h-1zM17 43h1v1h-1zM17 46h1v1h-1zM17 47h1v1h-1zM17 50h1v1h-1zM18 3h1v1h-1zM18 4h1v1h-1zM18 8h1v1h-1zM18 13h1v1h-1zM18 14h1v1h-1zM18 16h1v1h-1zM18 18h1v1h-1zM18 29h1v1h-1zM18 30h1v1h-1zM18 32h1v1h-1zM18 38h1v1h-1zM18 39h1v1h-1zM18 40h1v1h-1zM18 46h1v1h-1zM18 48h1v1h-1zM18 49h1v1h-1zM18 52h1v1h-1zM19 3h1v1h-1zM19 5h1v1h-1zM19 8h1v1h-1zM19 10h1v1h-1zM19 11h1v1h-1zM19 17h1v1h-1zM19 23h1v1h-1zM19 25h1v1h-1zM19 26h1v1h-1zM19 28h1v1h-1zM19 31h1v1h-1zM19 33h1v1h-1zM19 35h1v1h-1zM19 37h1v1h-1zM19 39h1v1h-1zM19 42h1v1h-1zM19 47h1v1h-1zM19 48h1v1h-1zM19 51h1v1h-1zM20 0h1v1h-1zM20 10h1v1h-1zM20 15h1v1h-1zM20 19h1v1h-1zM20 20h1v1h-1zM20 21h1v1h-1zM20 22h1v1h-1zM20 27h1v1h-1zM20 29h1v1h-1zM20 30h1v1h-1zM20 32h1v1h-1zM20 39h1v1h-1zM20 40h1v1h-1zM20 42h1v1h-1zM20 44h1v1h-1zM20 45h1v1h-1zM20 48h1v1h-1zM21 2h1v1h-1zM21 4h1v1h-1zM21 6h1v1h-1zM21 11h1v1h-1zM21 20h1v1h-1zM21 21h1v1h-1zM21 24h1v1h-1zM21 33h1v1h-1zM21 34h1v1h-1zM21 36h1v1h-1zM21 41h1v1h-1zM21 42h1v1h-1zM21 43h1v1h-1zM21 44h1v1h-1zM21 47h1v1h-1zM21 49h1v1h-1zM22 1h1v1h-1zM22 4h1v1h-1zM22 8h1v1h-1zM22 9h1v1h-1zM22 10h1v1h-1zM22 12h1v1h-1zM22 25h1v1h-1zM22 27h1v1h-1zM22 28h1v1h-1zM22 33h1v1h-1zM22 34h1v1h-1zM22 37h1v1h-1zM22 39h1v1h-1zM22 44h1v1h-1zM22 45h1v1h-1zM22 46h1v1h-1zM22 50h1v1h-1zM22 51h1v1h-1zM23 0h1v1h-1zM23 4h1v1h-1zM23 5h1v1h-1zM23 7h1v1h-1zM23 12h1v1h-1zM23 13h1v1h-1zM23 15h1v1h-1zM23 18h1v1h-1zM23 20h1v1h-1zM23 22h1v1h-1zM23 23h1v1h-1zM23 26h1v1h-1zM23 31h1v1h-1zM23 34h1v1h-1zM23 35h1v1h-1zM23 37h1v1h-1zM23 38h1v1h-1zM23 40h1v1h-1zM23 43h1v1h-1zM23 45h1v1h-1zM23 47h1v1h-1zM23 48h1v1h-1zM23 49h1v1h-1zM23 51h1v1h-1zM23 52h1v1h-1zM24 2h1v1h-1zM24 5h1v1h-1zM24 6h1v1h-1zM24 9h1v1h-1zM24 12h1v1h-1zM24 19h1v1h-1zM24 20h1v1h-1zM24 21h1v1h-1zM24 22h1v1h-1zM24 26h1v1h-1zM24 27h1v1h-1zM24 33h1v1h-1zM24 36h1v1h-1zM24 39h1v1h-1zM24 48h1v1h-1zM24 50h1v1h-1zM24 51h1v1h-1zM25 1h1v1h-1zM25 6h1v1h-1zM25 8h1v1h-1zM25 14h1v1h-1zM25 20h1v1h-1zM25 21h1v1h-1zM25 24h1v1h-1zM25 27h1v1h-1zM25 30h1v1h-1zM25 31h1v1h-1zM25 38h1v1h-1zM25 43h1v1h-1zM25 45h1v1h-1zM25 48h1v1h-1zM25 51h1v1h-1zM26 5h1v1h-1zM26 7h1v1h-1zM26 9h1v1h-1zM26 14h1v1h-1zM26 15h1v1h-1zM26 18h1v1h-1zM26 24h1v1h-1zM26 27h1v1h-1zM26 33h1v1h-1zM26 34h1v1h-1zM26 38h1v1h-1zM27 8h1v1h-1zM27 15h1v1h-1zM27 17h1v1h-1zM27 18h1v1h-1zM27 20h1v1h-1zM27 24h1v1h-1zM27 29h1v1h-1zM27 31h1v1h-1zM27 33h1v1h-1zM27 34h1v1h-1zM27 35h1v1h-1zM27 36h1v1h-1zM27 44h1v1h-1zM27 48h1v1h-1zM27 49h1v1h-1zM27 51h1v1h-1zM27 52h1v1h-1zM28 1h1v1h-1zM28 2h1v1h-1zM28 4h1v1h-1zM28 7h1v1h-1zM28 10h1v1h-1zM28 17h1v1h-1zM28 18h1v1h-1zM28 19h1v1h-1zM28 24h1v1h-1zM28 25h1v1h-1zM28 31h1v1h-1zM28 38h1v1h-1zM28 40h1v1h-1zM29 0h1v1h-1zM29 3h1v1h-1zM29 5h1v1h-1zM29 8h1v1h-1zM29 9h1v1h-1zM29 10h1v1h-1zM29 16h1v1h-1zM29 19h1v1h-1zM29 21h1v1h-1zM29 24h1v1h-1zM29 28h1v1h-1zM29 29h1v1h-1zM29 31h1v1h-1zM29 33h1v1h-1zM29 35h1v1h-1zM29 38h1v1h-1zM29 50h1v1h-1zM30 3h1v1h-1zM30 5h1v1h-1zM30 8h1v1h-1zM30 11h1v1h-1zM30 19h1v1h-1zM30 21h1v1h-1zM30 22h1v1h-1zM30 24h1v1h-1zM30 34h1v1h-1zM30 39h1v1h-1zM30 40h1v1h-1zM30 47h1v1h-1zM30 50h1v1h-1zM31 2h1v1h-1zM31 3h1v1h-1zM31 5h1v1h-1zM31 6h1v1h-1zM31 7h1v1h-1zM31 12h1v1h-1zM31 19h1v1h-1zM31 21h1v1h-1zM31 25h1v1h-1zM31 42h1v1h-1zM31 44h1v1h-1zM31 47h1v1h-1zM31 48h1v1h-1zM31 49h1v1h-1zM31 51h1v1h-1zM32 0h1v1h-1zM32 2h1v1h-1zM32 7h1v1h-1zM32 13h1v1h-1zM32 14h1v1h-1zM32 18h1v1h-1zM32 19h1v1h-1zM32 20h1v1h-1zM32 21h1v1h-1zM32 23h1v1h-1zM32 26h1v1h-1zM32 29h1v1h-1zM32 33h1v1h-1zM32 36h1v1h-1zM32 37h1v1h-1zM32 39h1v1h-1zM32 41h1v1h-1zM32 42h1v1h-1zM32 44h1v1h-1zM32 46h1v1h-1zM32 52h1v1h-1zM33 1h1v1h-1zM33 2h1v1h-1zM33 5h1v1h-1zM33 8h1v1h-1zM33 11h1v1h-1zM33 12h1v1h-1zM33 27h1v1h-1zM33 30h1v1h-1zM33 35h1v1h-1zM33 36h1v1h-1zM33 42h1v1h-1zM33 44h1v1h-1zM33 51h1v1h-1zM34 10h1v1h-1zM34 13h1v1h-1zM34 22h1v1h-1zM34 23h1v1h-1zM34 29h1v1h-1zM34 34h1v1h-1zM34 35h1v1h-1zM34 40h1v1h-1zM34 45h1v1h-1zM34 49h1v1h-1zM34 50h1v1h-1zM35 7h1v1h-1zM35 10h1v1h-1zM35 11h1v1h-1zM35 14h1v1h-1zM35 18h1v1h-1zM35 21h1v1h-1zM35 25h1v1h-1zM35 39h1v1h-1zM35 42h1v1h-1zM35 44h1v1h-1zM35 46h1v1h-1zM35 47h1v1h-1zM35 48h1v1h-1zM35 50h1v1h-1zM36 8h1v1h-1zM36 9h1v1h-1zM36 10h1v1h-1zM36 14h1v1h-1zM36 20h1v1h-1zM36 26h1v1h-1zM36 27h1v1h-1zM36 28h1v1h-1zM36 30h1v1h-1zM36 32h1v1h-1zM36 33h1v1h-1zM36 37h1v1h-1zM36 39h1v1h-1zM36 43h1v1h-1zM36 47h1v1h-1zM36 48h1v1h-1zM37 0h1v1h-1zM37 3h1v1h-1zM37 4h1v1h-1zM37 7h1v1h-1zM37 10h1v1h-1zM37 15h1v1h-1zM37 16h1v1h-1zM37 20h1v1h-1zM37 21h1v1h-1zM37 22h1v1h-1zM37 23h1v1h-1zM37 24h1v1h-1zM37 30h1v1h-1zM37 34h1v1h-1zM37 35h1v1h-1zM37 40h1v1h-1zM37 42h1v1h-1zM37 51h1v1h-1zM37 52h1v1h-1zM38 0h1v1h-1zM38 1h1v1h-1zM38 2h1v1h-1zM38 4h1v1h-1zM38 7h1v1h-1zM38 10h1v1h-1zM38 11h1v1h-1zM38 16h1v1h-1zM38 21h1v1h-1zM38 27h1v1h-1zM38 29h1v1h-1zM38 31h1v1h-1zM38 34h1v1h-1zM38 44h1v1h-1zM38 47h1v1h-1zM38 49h1v1h-1zM39 4h1v1h-1zM39 11h1v1h-1zM39 12h1v1h-1zM39 19h1v1h-1zM39 23h1v1h-1zM39 25h1v1h-1zM39 27h1v1h-1zM39 29h1v1h-1zM39 30h1v1h-1zM39 36h1v1h-1zM39 37h1v1h-1zM39 40h1v1h-1zM39 45h1v1h-1zM39 48h1v1h-1zM39 52h1v1h-1zM40 4h1v1h-1zM40 14h1v1h-1zM40 18h1v1h-1zM40 20h1v1h-1zM40 22h1v1h-1zM40 25h1v1h-1zM40 27h1v1h-1zM40 28h1v1h-1zM40 31h1v1h-1zM40 36h1v1h-1zM40 45h1v1h-1zM40 46h1v1h-1zM40 47h1v1h-1zM41 9h1v1h-1zM41 14h1v1h-1zM41 16h1v1h-1zM41 19h1v1h-1zM41 20h1v1h-1zM41 21h1v1h-1zM41 24h1v1h-1zM41 25h1v1h-1zM41 31h1v1h-1zM41 34h1v1h-1zM41 38h1v1h-1zM41 39h1v1h-1zM41 42h1v1h-1zM41 44h1v1h-1zM41 47h1v1h-1zM41 48h1v1h-1zM41 50h1v1h-1zM41 52h1v1h-1zM42 1h1v1h-1zM42 3h1v1h-1zM42 5h1v1h-1zM42 7h1v1h-1zM42 15h1v1h-1zM42 17h1v1h-1zM42 18h1v1h-1zM42 23h1v1h-1zM42 25h1v1h-1zM42 34h1v1h-1zM42 39h1v1h-1zM42 40h1v1h-1zM42 45h1v1h-1zM42 46h1v1h-1zM42 48h1v1h-1zM42 49h1v1h-1z" fill="#000"/></pattern><pattern id="seam" patternUnits="userSpaceOnUse" width="3.7050" height="4.2167" x="326.60" y="366.15"><path d="M0,0.5H3.705M0.5,0V4.217" stroke="#EBEBEB" stroke-width="1" stroke-opacity=".3" fill="none"/></pattern><filter id="vir0" filterUnits="userSpaceOnUse" x="160" y="365" width="750" height="660" color-interpolation-filters="sRGB"><feComponentTransfer><feFuncR type="table" tableValues="0.267 0.274 0.281 0.282 0.282 0.280 0.274 0.268 0.257 0.247 0.236 0.226 0.214 0.202 0.191 0.183 0.174 0.165 0.157 0.148 0.139 0.132 0.125 0.123 0.124 0.130 0.146 0.163 0.196 0.229 0.272 0.317 0.367 0.419 0.473 0.528 0.585 0.648 0.711 0.773 0.836 0.896 0.954 0.992 0.992 0.992 0.992 0.992 0.992 0.992 0.992 0.992 0.992 0.992 0.992 0.992 0.992 0.992 0.992 0.992 0.992 0.992 0.992 0.992 0.992"/><feFuncG type="table" tableValues="0.004 0.039 0.074 0.105 0.134 0.164 0.194 0.223 0.251 0.279 0.303 0.328 0.354 0.380 0.404 0.427 0.449 0.470 0.491 0.514 0.536 0.558 0.579 0.601 0.623 0.645 0.666 0.687 0.710 0.733 0.751 0.769 0.786 0.804 0.820 0.834 0.848 0.858 0.869 0.878 0.887 0.894 0.901 0.906 0.906 0.906 0.906 0.906 0.906 0.906 0.906 0.906 0.906 0.906 0.906 0.906 0.906 0.906 0.906 0.906 0.906 0.906 0.906 0.906 0.906"/><feFuncB type="table" tableValues="0.329 0.364 0.399 0.428 0.454 0.476 0.493 0.509 0.521 0.533 0.540 0.547 0.552 0.555 0.557 0.557 0.557 0.557 0.557 0.555 0.553 0.550 0.547 0.540 0.532 0.522 0.510 0.497 0.480 0.462 0.439 0.415 0.386 0.355 0.322 0.285 0.248 0.208 0.168 0.136 0.107 0.107 0.130 0.145 0.145 0.145 0.145 0.145 0.145 0.145 0.145 0.145 0.145 0.145 0.145 0.145 0.145 0.145 0.145 0.145 0.145 0.145 0.145 0.145 0.145"/></feComponentTransfer></filter><filter id="vir1" filterUnits="userSpaceOnUse" x="160" y="365" width="750" height="660" color-interpolation-filters="sRGB"><feComponentTransfer><feFuncR type="table" tableValues="0.267 0.267 0.268 0.270 0.272 0.274 0.277 0.280 0.282 0.282 0.282 0.282 0.281 0.278 0.274 0.269 0.261 0.252 0.243 0.234 0.224 0.212 0.200 0.190 0.181 0.171 0.161 0.151 0.141 0.132 0.123 0.123 0.128 0.149 0.180 0.227 0.288 0.356 0.433 0.516 0.604 0.702 0.801 0.899 0.992 0.992 0.992 0.992 0.992 0.992 0.992 0.992 0.992 0.992 0.992 0.992 0.992 0.992 0.992 0.992 0.992 0.992 0.992 0.992 0.992"/><feFuncG type="table" tableValues="0.004 0.006 0.012 0.019 0.029 0.041 0.054 0.069 0.086 0.101 0.118 0.136 0.155 0.175 0.197 0.219 0.241 0.264 0.287 0.309 0.332 0.357 0.383 0.408 0.432 0.456 0.479 0.505 0.532 0.558 0.584 0.613 0.642 0.670 0.700 0.731 0.757 0.783 0.808 0.831 0.851 0.867 0.882 0.895 0.906 0.906 0.906 0.906 0.906 0.906 0.906 0.906 0.906 0.906 0.906 0.906 0.906 0.906 0.906 0.906 0.906 0.906 0.906 0.906 0.906"/><feFuncB type="table" tableValues="0.329 0.332 0.337 0.345 0.355 0.366 0.380 0.395 0.411 0.424 0.439 0.455 0.470 0.482 0.495 0.507 0.517 0.527 0.536 0.542 0.549 0.552 0.556 0.557 0.557 0.557 0.557 0.556 0.554 0.550 0.546 0.536 0.524 0.507 0.488 0.463 0.431 0.393 0.346 0.293 0.236 0.173 0.123 0.108 0.145 0.145 0.145 0.145 0.145 0.145 0.145 0.145 0.145 0.145 0.145 0.145 0.145 0.145 0.145 0.145 0.145 0.145 0.145 0.145 0.145"/></feComponentTransfer></filter><filter id="vir2" filterUnits="userSpaceOnUse" x="160" y="365" width="750" height="660" color-interpolation-filters="sRGB"><feComponentTransfer><feFuncR type="table" tableValues="0.267 0.274 0.281 0.282 0.282 0.279 0.274 0.266 0.255 0.244 0.233 0.222 0.210 0.197 0.188 0.179 0.170 0.161 0.152 0.143 0.135 0.127 0.122 0.124 0.126 0.142 0.158 0.189 0.224 0.266 0.313 0.363 0.417 0.472 0.530 0.588 0.653 0.717 0.782 0.847 0.908 0.967 0.992 0.992 0.992 0.992 0.992 0.992 0.992 0.992 0.992 0.992 0.992 0.992 0.992 0.992 0.992 0.992 0.992 0.992 0.992 0.992 0.992 0.992 0.992"/><feFuncG type="table" tableValues="0.004 0.040 0.076 0.107 0.138 0.169 0.199 0.229 0.258 0.285 0.311 0.336 0.363 0.390 0.414 0.437 0.459 0.481 0.503 0.527 0.549 0.571 0.593 0.616 0.640 0.661 0.683 0.706 0.729 0.749 0.767 0.785 0.803 0.820 0.834 0.848 0.859 0.870 0.879 0.888 0.896 0.903 0.906 0.906 0.906 0.906 0.906 0.906 0.906 0.906 0.906 0.906 0.906 0.906 0.906 0.906 0.906 0.906 0.906 0.906 0.906 0.906 0.906 0.906 0.906"/><feFuncB type="table" tableValues="0.329 0.365 0.401 0.430 0.457 0.478 0.496 0.512 0.524 0.535 0.543 0.549 0.553 0.557 0.557 0.557 0.557 0.557 0.556 0.554 0.552 0.548 0.543 0.534 0.525 0.513 0.500 0.483 0.465 0.442 0.417 0.388 0.356 0.322 0.284 0.246 0.205 0.163 0.132 0.102 0.112 0.135 0.145 0.145 0.145 0.145 0.145 0.145 0.145 0.145 0.145 0.145 0.145 0.145 0.145 0.145 0.145 0.145 0.145 0.145 0.145 0.145 0.145 0.145 0.145"/></feComponentTransfer></filter><filter id="vir3" filterUnits="userSpaceOnUse" x="160" y="365" width="750" height="660" color-interpolation-filters="sRGB"><feComponentTransfer><feFuncR type="table" tableValues="0.267 0.282 0.274 0.259 0.241 0.226 0.209 0.193 0.182 0.172 0.161 0.152 0.142 0.134 0.126 0.122 0.124 0.126 0.141 0.156 0.181 0.211 0.242 0.282 0.321 0.363 0.407 0.450 0.495 0.540 0.586 0.635 0.684 0.733 0.781 0.828 0.874 0.917 0.959 0.992 0.992 0.992 0.992 0.992 0.992 0.992 0.992 0.992 0.992 0.992 0.992 0.992 0.992 0.992 0.992 0.992 0.992 0.992 0.992 0.992 0.992 0.992 0.992 0.992 0.992"/><feFuncG type="table" tableValues="0.004 0.129 0.195 0.248 0.292 0.329 0.365 0.399 0.428 0.455 0.479 0.504 0.529 0.552 0.574 0.596 0.618 0.640 0.660 0.680 0.700 0.721 0.740 0.755 0.770 0.785 0.800 0.814 0.826 0.837 0.848 0.856 0.864 0.872 0.879 0.885 0.892 0.897 0.902 0.906 0.906 0.906 0.906 0.906 0.906 0.906 0.906 0.906 0.906 0.906 0.906 0.906 0.906 0.906 0.906 0.906 0.906 0.906 0.906 0.906 0.906 0.906 0.906 0.906 0.906"/><feFuncB type="table" tableValues="0.329 0.449 0.494 0.520 0.537 0.548 0.553 0.557 0.557 0.557 0.557 0.556 0.554 0.551 0.547 0.542 0.534 0.525 0.513 0.502 0.487 0.472 0.455 0.434 0.413 0.388 0.362 0.336 0.307 0.277 0.248 0.216 0.185 0.156 0.133 0.111 0.099 0.115 0.132 0.145 0.145 0.145 0.145 0.145 0.145 0.145 0.145 0.145 0.145 0.145 0.145 0.145 0.145 0.145 0.145 0.145 0.145 0.145 0.145 0.145 0.145 0.145 0.145 0.145 0.145"/></feComponentTransfer></filter><g id="fld"><rect x="160" y="365" width="750" height="660" fill="#fff" opacity="0.220"/><ellipse cx="680" cy="612" rx="224" ry="88" fill="url(#gb)" opacity="0.50" transform="rotate(-25 680 612)"/><ellipse cx="480" cy="795" rx="224" ry="99.2" fill="url(#gb)" opacity="0.40"/><ellipse cx="700" cy="500" rx="120" ry="80" fill="url(#gb)" opacity="0.17"/><ellipse cx="330" cy="930" rx="120" ry="88" fill="url(#gb)" opacity="0.33"/><ellipse cx="600" cy="800" rx="99.2" ry="64" fill="url(#gb)" opacity="0.25"/><ellipse cx="765" cy="690" rx="76.8" ry="67.2" fill="url(#gb)" opacity="0.30"/><ellipse cx="628" cy="695" rx="128" ry="136" fill="url(#gb)" opacity="0.47"/><ellipse cx="612" cy="800" rx="99.2" ry="54.4" fill="url(#gb)" opacity="0.28"/><ellipse cx="560" cy="760" rx="112" ry="80" fill="url(#gb)" opacity="0.30"/><ellipse cx="588" cy="702" rx="57.6" ry="67.2" fill="url(#gb)" opacity="0.73"/><ellipse cx="588" cy="640" rx="51.2" ry="102.4" fill="url(#gb)" opacity="0.53"/><ellipse cx="542" cy="632" rx="64" ry="60.8" fill="url(#gb)" opacity="0.40"/><ellipse cx="752" cy="572" rx="60.8" ry="44.8" fill="url(#gb)" opacity="0.67"/><ellipse cx="715" cy="588" rx="51.2" ry="57.6" fill="url(#gb)" opacity="0.47"/><ellipse cx="690" cy="618" rx="48" ry="32" fill="url(#gb)" opacity="0.53"/><ellipse cx="668" cy="535" rx="64" ry="44.8" fill="url(#gb)" opacity="0.43"/><ellipse cx="640" cy="670" rx="67.2" ry="51.2" fill="url(#gb)" opacity="0.33"/><ellipse cx="335" cy="619" rx="16" ry="24" fill="url(#gb)" opacity="0.80"/><ellipse cx="352" cy="664" rx="51.2" ry="44.8" fill="url(#gb)" opacity="0.53"/><ellipse cx="338" cy="783" rx="60.8" ry="57.6" fill="url(#gb)" opacity="0.60"/><ellipse cx="430" cy="790" rx="96" ry="38.4" fill="url(#gb)" opacity="0.43"/><ellipse cx="482" cy="838" rx="30.4" ry="33.6" fill="url(#gb)" opacity="0.53"/><ellipse cx="408" cy="857" rx="36.8" ry="25.6" fill="url(#gb)" opacity="0.40"/><ellipse cx="581" cy="803" rx="19.2" ry="12.8" fill="url(#gb)" opacity="0.67"/><ellipse cx="605" cy="806" rx="60.8" ry="38.4" fill="url(#gb)" opacity="0.30"/><ellipse cx="752" cy="704" rx="40" ry="24" fill="url(#gb)" opacity="0.43"/><ellipse cx="778" cy="664" rx="33.6" ry="27.2" fill="url(#gb)" opacity="0.40"/><ellipse cx="730" cy="786" rx="22.4" ry="16" fill="url(#gb)" opacity="0.40"/><ellipse cx="301" cy="922" rx="20.8" ry="28.8" fill="url(#gb)" opacity="0.60"/><ellipse cx="306" cy="961" rx="22.4" ry="14.4" fill="url(#gb)" opacity="0.53"/><ellipse cx="365" cy="960" rx="28.8" ry="16" fill="url(#gb)" opacity="0.47"/><ellipse cx="490" cy="571" rx="16" ry="9.6" fill="url(#gb)" opacity="0.60"/><ellipse cx="483" cy="682" rx="11.2" ry="9.6" fill="url(#gb)" opacity="0.67"/><ellipse cx="513" cy="612" rx="20.8" ry="17.6" fill="url(#gb)" opacity="0.33"/><ellipse cx="632" cy="757" rx="27.2" ry="24" fill="url(#gb)" opacity="0.40"/><ellipse cx="885" cy="650" rx="22.4" ry="67.2" fill="url(#gb)" opacity="0.40"/><ellipse cx="625" cy="775" rx="44.8" ry="51.2" fill="url(#gb)" opacity="0.40"/><ellipse cx="765" cy="680" rx="64" ry="57.6" fill="url(#gb)" opacity="0.37"/><ellipse cx="245" cy="775" rx="83.2" ry="144" fill="url(#gk)" opacity="0.90" transform="rotate(-22 245 775)"/><ellipse cx="560" cy="925" rx="224" ry="57.6" fill="url(#gk)" opacity="0.60" transform="rotate(-8 560 925)"/><ellipse cx="700" cy="830" rx="105.6" ry="64" fill="url(#gk)" opacity="0.60" transform="rotate(-35 700 830)"/><ellipse cx="830" cy="480" rx="57.6" ry="160" fill="url(#gk)" opacity="0.60"/><ellipse cx="700" cy="425" rx="136" ry="76.8" fill="url(#gk)" opacity="0.45"/><ellipse cx="450" cy="640" rx="160" ry="99.2" fill="url(#gk)" opacity="0.92"/><ellipse cx="350" cy="560" rx="41.6" ry="92.8" fill="url(#gk)" opacity="0.92"/><ellipse cx="475" cy="545" rx="67.2" ry="48" fill="url(#gk)" opacity="0.92"/><ellipse cx="820" cy="690" rx="64" ry="80" fill="url(#gk)" opacity="0.30" transform="rotate(30 820 690)"/><polyline points="312,694 339,696 351,708 367,710 381,697 393,690 406,697 412,710 424,722 431,735 445,747 458,752 467,738 489,722 512,707 529,672 540,663 560,648" fill="none" stroke="#fff" stroke-opacity="0.40" stroke-width="3.8" stroke-linejoin="round"/><polyline points="458,752 480,760 505,770 541,777 551,787 576,803 594,798" fill="none" stroke="#fff" stroke-opacity="0.33" stroke-width="3.8" stroke-linejoin="round"/><polyline points="901.375,611.217 901.375,628.083 897.67,628.083 897.67,636.517 893.965,636.517 893.965,649.167 890.26,649.167 890.26,670.25 886.555,670.25 886.555,682.9 882.85,682.9 882.85,695.55 879.145,695.55 879.145,703.983 871.735,703.983 871.735,708.2 868.03,708.2 868.03,712.417 864.325,712.417 864.325,716.633 856.915,716.633 856.915,720.85 849.505,720.85 849.505,725.067 845.8,725.067 845.8,729.283 842.095,729.283 842.095,733.5 838.39,733.5 838.39,737.717 834.685,737.717 834.685,741.933 830.98,741.933 830.98,746.15 827.275,746.15 827.275,754.583 823.57,754.583 823.57,758.8 819.865,758.8 819.865,771.45 816.16,771.45 816.16,775.667 812.455,775.667 812.455,779.883 808.75,779.883 808.75,788.317 805.045,788.317 805.045,792.533 801.34,792.533 801.34,800.967 797.635,800.967 797.635,809.4 793.93,809.4 793.93,813.617 790.225,813.617 790.225,817.833 786.52,817.833 786.52,826.267 782.815,826.267 782.815,830.483 779.11,830.483 779.11,834.7 775.405,834.7 775.405,838.917 771.7,838.917 771.7,843.133 767.995,843.133 767.995,847.35 760.585,847.35 760.585,851.567" fill="none" stroke="#fff" stroke-opacity="0.67" stroke-width="7.5" stroke-linejoin="round"/><polyline points="760.585,851.567 756.88,851.567 756.88,855.783 749.47,855.783 749.47,860 745.765,860 745.765,864.217 742.06,864.217 742.06,868.433 738.355,868.433 738.355,872.65 734.65,872.65 734.65,876.867 730.945,876.867 730.945,881.083 727.24,881.083 727.24,885.3 723.535,885.3 723.535,889.517 719.83,889.517 719.83,893.733 716.125,893.733 716.125,897.95 712.42,897.95 712.42,902.167 708.715,902.167 708.715,906.383 701.305,906.383 701.305,910.6 697.6,910.6 697.6,914.817 690.19,914.817 690.19,919.033 686.485,919.033 686.485,923.25 682.78,923.25 682.78,927.467 675.37,927.467 675.37,931.683 671.665,931.683 671.665,935.9 664.255,935.9 664.255,940.117 656.845,940.117 656.845,944.333 653.14,944.333 653.14,948.55 645.73,948.55 645.73,952.767 634.615,952.767 634.615,956.983 627.205,956.983 627.205,961.2 619.795,961.2 619.795,965.417 604.975,965.417 604.975,961.2 586.45,961.2 586.45,965.417 579.04,965.417 579.04,969.633 582.745,969.633 582.745,978.067 564.22,978.067 564.22,973.85 549.4,973.85 549.4,978.067 545.695,978.067" fill="none" stroke="#fff" stroke-opacity="0.60" stroke-width="7.5" stroke-linejoin="round"/><polyline points="545.695,978.067 545.695,986.5 527.17,986.5 527.17,982.283 516.055,982.283 516.055,978.067 493.825,978.067 493.825,973.85 482.71,973.85 482.71,978.067 479.005,978.067 479.005,982.283 467.89,982.283 467.89,978.067 460.48,978.067 460.48,982.283 456.775,982.283 456.775,978.067 423.43,978.067 423.43,986.5 416.02,986.5 416.02,990.717 412.315,990.717 412.315,994.933 390.085,994.933 390.085,999.15 378.97,999.15 378.97,994.933 367.855,994.933 367.855,999.15 349.33,999.15 349.33,1003.37 345.625,1003.37 345.625,1007.58 338.215,1007.58 338.215,1011.8 330.805,1011.8 330.805,1016.02 308.575,1016.02 308.575,1011.8 304.87,1011.8 304.87,1007.58 293.755,1007.58" fill="none" stroke="#fff" stroke-opacity="0.67" stroke-width="7.5" stroke-linejoin="round"/><polyline points="293.755,1007.58 293.755,1003.37 297.46,1003.37 297.46,999.15 286.345,999.15 286.345,994.933 271.525,994.933 271.525,978.067 264.115,978.067 264.115,982.283 260.41,982.283 260.41,994.933 256.705,994.933 256.705,990.717 253,990.717 253,982.283 249.295,982.283 249.295,973.85 253,973.85 253,961.2 256.705,961.2 256.705,956.983 253,956.983 253,952.767 249.295,952.767 249.295,944.333 241.885,944.333 241.885,935.9 238.18,935.9 238.18,931.683 234.475,931.683 234.475,927.467 230.77,927.467 230.77,906.383 241.885,906.383 241.885,910.6 245.59,910.6 245.59,906.383 249.295,906.383 249.295,897.95 253,897.95 253,893.733 249.295,893.733 249.295,864.217 245.59,864.217" fill="none" stroke="#fff" stroke-opacity="0.67" stroke-width="8" stroke-linejoin="round"/><polyline points="245.59,864.217 245.59,855.783 241.885,855.783 241.885,851.567 238.18,851.567 238.18,847.35 234.475,847.35 234.475,843.133 230.77,843.133 230.77,834.7 227.065,834.7 227.065,830.483 223.36,830.483 223.36,822.05 219.655,822.05 219.655,817.833 215.95,817.833 215.95,809.4 212.245,809.4 212.245,800.967 208.54,800.967 208.54,796.75 204.835,796.75 204.835,784.1 201.13,784.1 201.13,775.667 197.425,775.667 197.425,763.017 193.72,763.017 193.72,750.367 190.015,750.367 190.015,741.933 186.31,741.933 186.31,729.283 182.605,729.283 182.605,725.067 178.9,725.067 178.9,716.633 175.195,716.633 175.195,712.417 171.49,712.417 171.49,703.983 167.785,703.983" fill="none" stroke="#fff" stroke-opacity="0.73" stroke-width="8" stroke-linejoin="round"/><polyline points="167.785,703.983 167.785,695.55 175.195,695.55 175.195,691.333 182.605,691.333 182.605,678.683 186.31,678.683 186.31,670.25 201.13,670.25 201.13,674.467 204.835,674.467 204.835,678.683 212.245,678.683 212.245,695.55 215.95,695.55 215.95,703.983 227.065,703.983 227.065,708.2 241.885,708.2 241.885,712.417 282.64,712.417 282.64,716.633 290.05,716.633 290.05,708.2 293.755,708.2 293.755,703.983 301.165,703.983 301.165,699.767 304.87,699.767 304.87,695.55 312.28,695.55 312.28,691.333 323.395,691.333" fill="none" stroke="#fff" stroke-opacity="0.73" stroke-width="8.5" stroke-linejoin="round"/><polyline points="582.745,526.883 582.745,522.667 586.45,522.667 586.45,518.45 586.45,514.233 590.155,514.233 590.155,510.017 590.155,505.8 597.565,505.8 597.565,501.583 608.68,501.583 608.68,497.367 616.09,497.367 616.09,488.933 623.5,488.933 623.5,484.717 627.205,484.717 627.205,480.5 630.91,480.5 630.91,476.283 630.91,472.067 634.615,472.067 634.615,467.85 634.615,450.983 638.32,450.983 638.32,446.767 642.025,446.767 642.025,442.55 645.73,442.55 645.73,438.333 649.435,438.333 649.435,434.117 664.255,434.117 664.255,425.683 671.665,425.683 671.665,421.467 675.37,421.467 675.37,417.25 679.075,417.25 679.075,413.033 682.78,413.033 682.78,408.817 682.78,404.6 686.485,404.6 686.485,400.383 690.19,400.383 690.19,396.167 697.6,396.167 697.6,391.95 716.125,391.95 716.125,387.733 723.535,387.733 723.535,379.3 727.24,379.3 727.24,375.083 749.47,375.083 749.47,370.867 764.29,370.867 764.29,375.083 775.405,375.083 775.405,379.3 786.52,379.3 786.52,383.517 790.225,383.517 790.225,379.3 827.275,379.3 827.275,383.517" fill="none" stroke="#fff" stroke-opacity="0.47" stroke-width="7.5" stroke-linejoin="round"/></g><g id="base"><ellipse cx="450" cy="640" rx="176" ry="112" fill="url(#gb)" opacity="0.15"/><ellipse cx="395" cy="700" rx="96" ry="64" fill="url(#gb)" opacity="0.03"/><ellipse cx="348" cy="560" rx="41.6" ry="102.4" fill="url(#gb)" opacity="0.17"/><ellipse cx="478" cy="545" rx="73.6" ry="51.2" fill="url(#gb)" opacity="0.16"/><ellipse cx="630" cy="695" rx="124.8" ry="131.2" fill="url(#gb)" opacity="0.16"/><ellipse cx="612" cy="800" rx="92.8" ry="48" fill="url(#gb)" opacity="0.12"/><ellipse cx="560" cy="760" rx="102.4" ry="70.4" fill="url(#gb)" opacity="0.09"/><ellipse cx="470" cy="798" rx="224" ry="80" fill="url(#gb)" opacity="0.08"/><ellipse cx="588" cy="702" rx="54.4" ry="64" fill="url(#gb)" opacity="0.30"/><ellipse cx="588" cy="640" rx="48" ry="96" fill="url(#gb)" opacity="0.21"/><ellipse cx="752" cy="572" rx="57.6" ry="41.6" fill="url(#gb)" opacity="0.30"/><ellipse cx="690" cy="605" rx="200" ry="72" fill="url(#gb)" opacity="0.20" transform="rotate(-25 690 605)"/><ellipse cx="542" cy="632" rx="60.8" ry="57.6" fill="url(#gb)" opacity="0.15"/><ellipse cx="338" cy="783" rx="57.6" ry="54.4" fill="url(#gb)" opacity="0.24"/><ellipse cx="440" cy="792" rx="128" ry="44.8" fill="url(#gb)" opacity="0.16"/><ellipse cx="482" cy="838" rx="28.8" ry="32" fill="url(#gb)" opacity="0.21"/><ellipse cx="600" cy="803" rx="70.4" ry="44.8" fill="url(#gb)" opacity="0.16"/><ellipse cx="352" cy="664" rx="48" ry="41.6" fill="url(#gb)" opacity="0.17"/><ellipse cx="335" cy="619" rx="14.4" ry="20.8" fill="url(#gb)" opacity="0.47"/><ellipse cx="752" cy="704" rx="41.6" ry="25.6" fill="url(#gb)" opacity="0.19"/><ellipse cx="668" cy="535" rx="57.6" ry="38.4" fill="url(#gb)" opacity="0.08"/><ellipse cx="625" cy="775" rx="44.8" ry="51.2" fill="url(#gb)" opacity="0.16"/><ellipse cx="768" cy="680" rx="57.6" ry="51.2" fill="url(#gb)" opacity="0.13"/><ellipse cx="752" cy="572" rx="35.2" ry="24" fill="url(#gb)" opacity="0.17"/><rect x="160" y="365" width="750" height="660" fill="#fff" opacity="0.010"/><polyline points="312,694 339,696 351,708 367,710 381,697 393,690 406,697 412,710 424,722 431,735 445,747 458,752 467,738 489,722 512,707 529,672 540,663 560,648" fill="none" stroke="#fff" stroke-opacity="0.17" stroke-width="3.8" stroke-linejoin="round"/><polyline points="458,752 480,760 505,770 541,777 551,787 576,803 594,798" fill="none" stroke="#fff" stroke-opacity="0.15" stroke-width="3.8" stroke-linejoin="round"/><polyline points="901.375,611.217 901.375,628.083 897.67,628.083 897.67,636.517 893.965,636.517 893.965,649.167 890.26,649.167 890.26,670.25 886.555,670.25 886.555,682.9 882.85,682.9 882.85,695.55 879.145,695.55 879.145,703.983 871.735,703.983 871.735,708.2 868.03,708.2 868.03,712.417 864.325,712.417 864.325,716.633 856.915,716.633 856.915,720.85 849.505,720.85 849.505,725.067 845.8,725.067 845.8,729.283 842.095,729.283 842.095,733.5 838.39,733.5 838.39,737.717 834.685,737.717 834.685,741.933 830.98,741.933 830.98,746.15 827.275,746.15 827.275,754.583 823.57,754.583 823.57,758.8 819.865,758.8 819.865,771.45 816.16,771.45 816.16,775.667 812.455,775.667 812.455,779.883 808.75,779.883 808.75,788.317 805.045,788.317 805.045,792.533 801.34,792.533 801.34,800.967 797.635,800.967 797.635,809.4 793.93,809.4 793.93,813.617 790.225,813.617 790.225,817.833 786.52,817.833 786.52,826.267 782.815,826.267 782.815,830.483 779.11,830.483 779.11,834.7 775.405,834.7 775.405,838.917 771.7,838.917 771.7,843.133 767.995,843.133 767.995,847.35 760.585,847.35 760.585,851.567" fill="none" stroke="#fff" stroke-opacity="0.23" stroke-width="7.5" stroke-linejoin="round" stroke-dasharray="9 4 14 5 6 3 18 6"/><polyline points="760.585,851.567 756.88,851.567 756.88,855.783 749.47,855.783 749.47,860 745.765,860 745.765,864.217 742.06,864.217 742.06,868.433 738.355,868.433 738.355,872.65 734.65,872.65 734.65,876.867 730.945,876.867 730.945,881.083 727.24,881.083 727.24,885.3 723.535,885.3 723.535,889.517 719.83,889.517 719.83,893.733 716.125,893.733 716.125,897.95 712.42,897.95 712.42,902.167 708.715,902.167 708.715,906.383 701.305,906.383 701.305,910.6 697.6,910.6 697.6,914.817 690.19,914.817 690.19,919.033 686.485,919.033 686.485,923.25 682.78,923.25 682.78,927.467 675.37,927.467 675.37,931.683 671.665,931.683 671.665,935.9 664.255,935.9 664.255,940.117 656.845,940.117 656.845,944.333 653.14,944.333 653.14,948.55 645.73,948.55 645.73,952.767 634.615,952.767 634.615,956.983 627.205,956.983 627.205,961.2 619.795,961.2 619.795,965.417 604.975,965.417 604.975,961.2 586.45,961.2 586.45,965.417 579.04,965.417 579.04,969.633 582.745,969.633 582.745,978.067 564.22,978.067 564.22,973.85 549.4,973.85 549.4,978.067 545.695,978.067" fill="none" stroke="#fff" stroke-opacity="0.15" stroke-width="7.5" stroke-linejoin="round" stroke-dasharray="8 6 12 4 5 7 15 5"/><polyline points="545.695,978.067 545.695,986.5 527.17,986.5 527.17,982.283 516.055,982.283 516.055,978.067 493.825,978.067 493.825,973.85 482.71,973.85 482.71,978.067 479.005,978.067 479.005,982.283 467.89,982.283 467.89,978.067 460.48,978.067 460.48,982.283 456.775,982.283 456.775,978.067 423.43,978.067 423.43,986.5 416.02,986.5 416.02,990.717 412.315,990.717 412.315,994.933 390.085,994.933 390.085,999.15 378.97,999.15 378.97,994.933 367.855,994.933 367.855,999.15 349.33,999.15 349.33,1003.37 345.625,1003.37 345.625,1007.58 338.215,1007.58 338.215,1011.8 330.805,1011.8 330.805,1016.02 308.575,1016.02 308.575,1011.8 304.87,1011.8 304.87,1007.58 293.755,1007.58" fill="none" stroke="#fff" stroke-opacity="0.20" stroke-width="7.5" stroke-linejoin="round" stroke-dasharray="10 5 6 4 14 6 8 3"/><polyline points="293.755,1007.58 293.755,1003.37 297.46,1003.37 297.46,999.15 286.345,999.15 286.345,994.933 271.525,994.933 271.525,978.067 264.115,978.067 264.115,982.283 260.41,982.283 260.41,994.933 256.705,994.933 256.705,990.717 253,990.717 253,982.283 249.295,982.283 249.295,973.85 253,973.85 253,961.2 256.705,961.2 256.705,956.983 253,956.983 253,952.767 249.295,952.767 249.295,944.333 241.885,944.333 241.885,935.9 238.18,935.9 238.18,931.683 234.475,931.683 234.475,927.467 230.77,927.467 230.77,906.383 241.885,906.383 241.885,910.6 245.59,910.6 245.59,906.383 249.295,906.383 249.295,897.95 253,897.95 253,893.733 249.295,893.733 249.295,864.217 245.59,864.217" fill="none" stroke="#fff" stroke-opacity="0.23" stroke-width="8" stroke-linejoin="round" stroke-dasharray="12 4 8 3 16 5"/><polyline points="245.59,864.217 245.59,855.783 241.885,855.783 241.885,851.567 238.18,851.567 238.18,847.35 234.475,847.35 234.475,843.133 230.77,843.133 230.77,834.7 227.065,834.7 227.065,830.483 223.36,830.483 223.36,822.05 219.655,822.05 219.655,817.833 215.95,817.833 215.95,809.4 212.245,809.4 212.245,800.967 208.54,800.967 208.54,796.75 204.835,796.75 204.835,784.1 201.13,784.1 201.13,775.667 197.425,775.667 197.425,763.017 193.72,763.017 193.72,750.367 190.015,750.367 190.015,741.933 186.31,741.933 186.31,729.283 182.605,729.283 182.605,725.067 178.9,725.067 178.9,716.633 175.195,716.633 175.195,712.417 171.49,712.417 171.49,703.983 167.785,703.983" fill="none" stroke="#fff" stroke-opacity="0.33" stroke-width="8" stroke-linejoin="round"/><polyline points="167.785,703.983 167.785,695.55 175.195,695.55 175.195,691.333 182.605,691.333 182.605,678.683 186.31,678.683 186.31,670.25 201.13,670.25 201.13,674.467 204.835,674.467 204.835,678.683 212.245,678.683 212.245,695.55 215.95,695.55 215.95,703.983 227.065,703.983 227.065,708.2 241.885,708.2 241.885,712.417 282.64,712.417 282.64,716.633 290.05,716.633 290.05,708.2 293.755,708.2 293.755,703.983 301.165,703.983 301.165,699.767 304.87,699.767 304.87,695.55 312.28,695.55 312.28,691.333 323.395,691.333" fill="none" stroke="#fff" stroke-opacity="0.40" stroke-width="8.5" stroke-linejoin="round"/></g><mask id="m_core" maskUnits="userSpaceOnUse" x="160" y="365" width="750" height="660"><rect x="160" y="365" width="750" height="660" fill="#000"/><ellipse cx="588" cy="700" rx="57.6" ry="67.2" fill="url(#gb)" opacity="0.95"/><ellipse cx="588" cy="640" rx="41.6" ry="88" fill="url(#gb)" opacity="0.50"/><ellipse cx="700" cy="598" rx="152" ry="57.6" fill="url(#gb)" opacity="0.70" transform="rotate(-25 700 598)"/><ellipse cx="752" cy="572" rx="48" ry="35.2" fill="url(#gb)" opacity="0.50"/><ellipse cx="668" cy="535" rx="60.8" ry="41.6" fill="url(#gb)" opacity="0.60"/><ellipse cx="338" cy="783" rx="57.6" ry="54.4" fill="url(#gb)" opacity="0.80"/><ellipse cx="430" cy="792" rx="96" ry="35.2" fill="url(#gb)" opacity="0.55"/><ellipse cx="482" cy="838" rx="25.6" ry="28.8" fill="url(#gb)" opacity="0.50"/><ellipse cx="352" cy="664" rx="44.8" ry="38.4" fill="url(#gb)" opacity="0.60"/><ellipse cx="335" cy="619" rx="14.4" ry="20.8" fill="url(#gb)" opacity="0.90"/><ellipse cx="535" cy="622" rx="57.6" ry="51.2" fill="url(#gb)" opacity="0.40"/><ellipse cx="581" cy="803" rx="19.2" ry="12.8" fill="url(#gb)" opacity="0.80"/></mask><mask id="m_cov" maskUnits="userSpaceOnUse" x="160" y="365" width="750" height="660"><rect x="160" y="365" width="750" height="660" fill="#262626"/><ellipse cx="735" cy="450" rx="128" ry="99.2" fill="url(#gf)" opacity="1.00"/><ellipse cx="700" cy="560" rx="96" ry="57.6" fill="url(#gf)" opacity="0.55"/><ellipse cx="815" cy="690" rx="76.8" ry="108.8" fill="url(#gf)" opacity="0.95"/><ellipse cx="818" cy="585" rx="57.6" ry="96" fill="url(#gf)" opacity="1.00"/><ellipse cx="700" cy="835" rx="102.4" ry="57.6" fill="url(#gf)" opacity="1.00" transform="rotate(-35 700 835)"/><ellipse cx="300" cy="950" rx="83.2" ry="70.4" fill="url(#gf)" opacity="0.60"/><ellipse cx="520" cy="945" rx="208" ry="43.2" fill="url(#gf)" opacity="0.95" transform="rotate(-6 520 945)"/><ellipse cx="240" cy="760" rx="51.2" ry="92.8" fill="url(#gf)" opacity="0.70" transform="rotate(-22 240 760)"/><ellipse cx="640" cy="720" rx="64" ry="48" fill="url(#gf)" opacity="0.15"/></mask><mask id="m_cov3" maskUnits="userSpaceOnUse" x="160" y="365" width="750" height="660"><rect x="160" y="365" width="750" height="660" fill="#000"/><ellipse cx="690" cy="600" rx="160" ry="57.6" fill="url(#gf)" opacity="0.60" transform="rotate(-25 690 600)"/><ellipse cx="590" cy="670" rx="48" ry="96" fill="url(#gf)" opacity="0.50"/><ellipse cx="640" cy="690" rx="64" ry="57.6" fill="url(#gf)" opacity="0.35"/><ellipse cx="770" cy="690" rx="57.6" ry="54.4" fill="url(#gf)" opacity="0.60"/><ellipse cx="330" cy="920" rx="80" ry="64" fill="url(#gf)" opacity="0.50"/><ellipse cx="600" cy="800" rx="64" ry="41.6" fill="url(#gf)" opacity="0.40"/></mask><mask id="m_cov2" maskUnits="userSpaceOnUse" x="160" y="365" width="750" height="660"><rect x="160" y="365" width="750" height="660" fill="#000"/><ellipse cx="745" cy="440" rx="115.2" ry="83.2" fill="url(#gf)" opacity="1.00"/><ellipse cx="822" cy="700" rx="64" ry="99.2" fill="url(#gf)" opacity="0.95"/><ellipse cx="820" cy="585" rx="48" ry="83.2" fill="url(#gf)" opacity="0.90"/><ellipse cx="705" cy="840" rx="86.4" ry="48" fill="url(#gf)" opacity="1.00" transform="rotate(-35 705 840)"/><ellipse cx="290" cy="960" rx="67.2" ry="54.4" fill="url(#gf)" opacity="0.50"/><ellipse cx="540" cy="945" rx="168" ry="33.6" fill="url(#gf)" opacity="0.90" transform="rotate(-6 540 945)"/><ellipse cx="690" cy="545" rx="64" ry="38.4" fill="url(#gf)" opacity="0.50"/></mask>
</defs>
<text x="131.0" y="236.5" font-size="58.28" fill="#000" textLength="391.9" lengthAdjust="spacingAndGlyphs">Ruff Ruff 2011</text>
<rect x="131.0" y="270.1" width="807.0" height="68.8" fill="#D9D9D9"/>
<rect x="131.0" y="338.9" width="807.0" height="709.8" fill="#EBEBEB"/>
<path d="M131.0,366.65h807.0M131.0,467.85h807.0M131.0,569.05h807.0M131.0,670.25h807.0M131.0,771.45h807.0M131.0,872.65h807.0M131.0,973.85h807.0M327.10,338.9v709.8M549.40,338.9v709.8M771.70,338.9v709.8" stroke="#fff" stroke-width="4.45" fill="none"/>
<text x="506.5" y="316.5" font-size="38.86" fill="#1A1A1A" textLength="56.0" lengthAdjust="spacingAndGlyphs">est</text>
<g transform="translate(0.0,0.0)"><g clip-path="url(#zaclip)"><g filter="url(#vir0)"><rect x="160" y="365" width="750" height="660" fill="#000"/><use href="#fld"/><rect x="160" y="365" width="750" height="660" fill="url(#n1)" style="mix-blend-mode:multiply"/><rect x="160" y="365" width="750" height="660" fill="url(#n2)" style="mix-blend-mode:multiply"/><g style="mix-blend-mode:screen"><use href="#base"/></g><rect x="160" y="365" width="750" height="660" fill="url(#sk)" mask="url(#m_cov)"/><rect x="160" y="365" width="750" height="660" fill="url(#sk2)" mask="url(#m_cov2)"/><rect x="160" y="365" width="750" height="660" fill="url(#sk3)" mask="url(#m_cov3)"/><rect x="160" y="365" width="750" height="660" fill="url(#sp1)" mask="url(#m_core)"/><rect x="160" y="365" width="750" height="660" fill="url(#sp2)"/></g><rect x="160" y="365" width="750" height="660" fill="url(#seam)"/></g></g>
<rect x="961.2" y="270.1" width="807.0" height="68.8" fill="#D9D9D9"/>
<rect x="961.2" y="338.9" width="807.0" height="709.8" fill="#EBEBEB"/>
<path d="M961.2,366.65h807.0M961.2,467.85h807.0M961.2,569.05h807.0M961.2,670.25h807.0M961.2,771.45h807.0M961.2,872.65h807.0M961.2,973.85h807.0M1157.30,338.9v709.8M1379.60,338.9v709.8M1601.90,338.9v709.8" stroke="#fff" stroke-width="4.45" fill="none"/>
<text x="1348.0" y="316.5" font-size="38.86" fill="#1A1A1A" textLength="33.5" lengthAdjust="spacingAndGlyphs">lb</text>
<g transform="translate(830.2,0.0)"><g clip-path="url(#zaclip)"><g filter="url(#vir1)"><rect x="160" y="365" width="750" height="660" fill="#000"/><use href="#fld"/><rect x="160" y="365" width="750" height="660" fill="url(#n1)" style="mix-blend-mode:multiply"/><rect x="160" y="365" width="750" height="660" fill="url(#n2)" style="mix-blend-mode:multiply"/><g style="mix-blend-mode:screen"><use href="#base"/></g><rect x="160" y="365" width="750" height="660" fill="url(#sk)" mask="url(#m_cov)"/><rect x="160" y="365" width="750" height="660" fill="url(#sk2)" mask="url(#m_cov2)"/><rect x="160" y="365" width="750" height="660" fill="url(#sk3)" mask="url(#m_cov3)"/><rect x="160" y="365" width="750" height="660" fill="url(#sp1)" mask="url(#m_core)"/><rect x="160" y="365" width="750" height="660" fill="url(#sp2)"/></g><rect x="160" y="365" width="750" height="660" fill="url(#seam)"/></g></g>
<path d="M119.5,366.65h11.5M119.5,467.85h11.5M119.5,569.05h11.5M119.5,670.25h11.5M119.5,771.45h11.5M119.5,872.65h11.5M119.5,973.85h11.5" stroke="#333" stroke-width="4.45" fill="none"/>
<text x="23.3" y="380.0" font-size="38.86" fill="#4D4D4D" textLength="88.3" lengthAdjust="spacingAndGlyphs">22°S</text>
<text x="23.3" y="481.2" font-size="38.86" fill="#4D4D4D" textLength="88.3" lengthAdjust="spacingAndGlyphs">24°S</text>
<text x="23.3" y="582.4" font-size="38.86" fill="#4D4D4D" textLength="88.3" lengthAdjust="spacingAndGlyphs">26°S</text>
<text x="23.3" y="683.6" font-size="38.86" fill="#4D4D4D" textLength="88.3" lengthAdjust="spacingAndGlyphs">28°S</text>
<text x="23.3" y="784.9" font-size="38.86" fill="#4D4D4D" textLength="88.3" lengthAdjust="spacingAndGlyphs">30°S</text>
<text x="23.3" y="886.0" font-size="38.86" fill="#4D4D4D" textLength="88.3" lengthAdjust="spacingAndGlyphs">32°S</text>
<text x="23.3" y="987.2" font-size="38.86" fill="#4D4D4D" textLength="88.3" lengthAdjust="spacingAndGlyphs">34°S</text>
<rect x="131.0" y="1072.1" width="807.0" height="68.8" fill="#D9D9D9"/>
<rect x="131.0" y="1140.9" width="807.0" height="709.8" fill="#EBEBEB"/>
<path d="M131.0,1168.65h807.0M131.0,1269.85h807.0M131.0,1371.05h807.0M131.0,1472.25h807.0M131.0,1573.45h807.0M131.0,1674.65h807.0M131.0,1775.85h807.0M327.10,1140.9v709.8M549.40,1140.9v709.8M771.70,1140.9v709.8" stroke="#fff" stroke-width="4.45" fill="none"/>
<text x="493.7" y="1118.5" font-size="38.86" fill="#1A1A1A" textLength="81.6" lengthAdjust="spacingAndGlyphs">med</text>
<g transform="translate(0.0,802.0)"><g clip-path="url(#zaclip)"><g filter="url(#vir2)"><rect x="160" y="365" width="750" height="660" fill="#000"/><use href="#fld"/><rect x="160" y="365" width="750" height="660" fill="url(#n1)" style="mix-blend-mode:multiply"/><rect x="160" y="365" width="750" height="660" fill="url(#n2)" style="mix-blend-mode:multiply"/><g style="mix-blend-mode:screen"><use href="#base"/></g><rect x="160" y="365" width="750" height="660" fill="url(#sk)" mask="url(#m_cov)"/><rect x="160" y="365" width="750" height="660" fill="url(#sk2)" mask="url(#m_cov2)"/><rect x="160" y="365" width="750" height="660" fill="url(#sk3)" mask="url(#m_cov3)"/><rect x="160" y="365" width="750" height="660" fill="url(#sp1)" mask="url(#m_core)"/><rect x="160" y="365" width="750" height="660" fill="url(#sp2)"/></g><rect x="160" y="365" width="750" height="660" fill="url(#seam)"/></g></g>
<rect x="961.2" y="1072.1" width="807.0" height="68.8" fill="#D9D9D9"/>
<rect x="961.2" y="1140.9" width="807.0" height="709.8" fill="#EBEBEB"/>
<path d="M961.2,1168.65h807.0M961.2,1269.85h807.0M961.2,1371.05h807.0M961.2,1472.25h807.0M961.2,1573.45h807.0M961.2,1674.65h807.0M961.2,1775.85h807.0M1157.30,1140.9v709.8M1379.60,1140.9v709.8M1601.90,1140.9v709.8" stroke="#fff" stroke-width="4.45" fill="none"/>
<text x="1341.4" y="1118.5" font-size="38.86" fill="#1A1A1A" textLength="46.5" lengthAdjust="spacingAndGlyphs">ub</text>
<g transform="translate(830.2,802.0)"><g clip-path="url(#zaclip)"><g filter="url(#vir3)"><rect x="160" y="365" width="750" height="660" fill="#000"/><use href="#fld"/><ellipse cx="470" cy="800" rx="264" ry="124.8" fill="url(#gb)" opacity="0.37"/><ellipse cx="620" cy="690" rx="184" ry="152" fill="url(#gb)" opacity="0.27"/><ellipse cx="330" cy="930" rx="128" ry="96" fill="url(#gb)" opacity="0.23"/><rect x="160" y="365" width="750" height="660" fill="url(#n1)" style="mix-blend-mode:multiply"/><rect x="160" y="365" width="750" height="660" fill="url(#n2)" style="mix-blend-mode:multiply"/><g style="mix-blend-mode:screen"><use href="#base"/></g><rect x="160" y="365" width="750" height="660" fill="url(#sk)" mask="url(#m_cov)"/><rect x="160" y="365" width="750" height="660" fill="url(#sk2)" mask="url(#m_cov2)"/><rect x="160" y="365" width="750" height="660" fill="url(#sk3)" mask="url(#m_cov3)"/><rect x="160" y="365" width="750" height="660" fill="url(#sp1)" mask="url(#m_core)"/><rect x="160" y="365" width="750" height="660" fill="url(#sp2)"/></g><rect x="160" y="365" width="750" height="660" fill="url(#seam)"/></g></g>
<path d="M119.5,1168.65h11.5M119.5,1269.85h11.5M119.5,1371.05h11.5M119.5,1472.25h11.5M119.5,1573.45h11.5M119.5,1674.65h11.5M119.5,1775.85h11.5" stroke="#333" stroke-width="4.45" fill="none"/>
<text x="23.3" y="1182.0" font-size="38.86" fill="#4D4D4D" textLength="88.3" lengthAdjust="spacingAndGlyphs">22°S</text>
<text x="23.3" y="1283.2" font-size="38.86" fill="#4D4D4D" textLength="88.3" lengthAdjust="spacingAndGlyphs">24°S</text>
<text x="23.3" y="1384.4" font-size="38.86" fill="#4D4D4D" textLength="88.3" lengthAdjust="spacingAndGlyphs">26°S</text>
<text x="23.3" y="1485.7" font-size="38.86" fill="#4D4D4D" textLength="88.3" lengthAdjust="spacingAndGlyphs">28°S</text>
<text x="23.3" y="1586.8" font-size="38.86" fill="#4D4D4D" textLength="88.3" lengthAdjust="spacingAndGlyphs">30°S</text>
<text x="23.3" y="1688.0" font-size="38.86" fill="#4D4D4D" textLength="88.3" lengthAdjust="spacingAndGlyphs">32°S</text>
<text x="23.3" y="1789.2" font-size="38.86" fill="#4D4D4D" textLength="88.3" lengthAdjust="spacingAndGlyphs">34°S</text>
<path d="M327.10,1850.7v11.5M549.40,1850.7v11.5M771.70,1850.7v11.5" stroke="#333" stroke-width="4.45" fill="none"/>
<text x="283.0" y="1897.8" font-size="38.86" fill="#4D4D4D" textLength="88.2" lengthAdjust="spacingAndGlyphs">20°E</text>
<text x="505.3" y="1897.8" font-size="38.86" fill="#4D4D4D" textLength="88.2" lengthAdjust="spacingAndGlyphs">25°E</text>
<text x="727.6" y="1897.8" font-size="38.86" fill="#4D4D4D" textLength="88.2" lengthAdjust="spacingAndGlyphs">30°E</text>
<path d="M1157.30,1850.7v11.5M1379.60,1850.7v11.5M1601.90,1850.7v11.5" stroke="#333" stroke-width="4.45" fill="none"/>
<text x="1113.2" y="1897.8" font-size="38.86" fill="#4D4D4D" textLength="88.2" lengthAdjust="spacingAndGlyphs">20°E</text>
<text x="1335.5" y="1897.8" font-size="38.86" fill="#4D4D4D" textLength="88.2" lengthAdjust="spacingAndGlyphs">25°E</text>
<text x="1557.8" y="1897.8" font-size="38.86" fill="#4D4D4D" textLength="88.2" lengthAdjust="spacingAndGlyphs">30°E</text>
<text x="1836.9" y="920.0" font-size="48.56" fill="#000" textLength="217.2" lengthAdjust="spacingAndGlyphs">real_occu</text>
<linearGradient id="vg" x1="0" y1="1" x2="0" y2="0">
<stop offset="0" stop-color="#440154"/>
<stop offset="0.1" stop-color="#482576"/>
<stop offset="0.2" stop-color="#414487"/>
<stop offset="0.3" stop-color="#35608D"/>
<stop offset="0.4" stop-color="#2A788E"/>
<stop offset="0.5" stop-color="#21908C"/>
<stop offset="0.6" stop-color="#22A884"/>
<stop offset="0.7" stop-color="#43BF71"/>
<stop offset="0.8" stop-color="#7AD151"/>
<stop offset="0.9" stop-color="#BBDF27"/>
<stop offset="1" stop-color="#FDE725"/>
</linearGradient>
<rect x="1836.9" y="948.4" width="72.0" height="358.0" fill="url(#vg)"/>
<text x="1931.8" y="1319.8" font-size="38.86" fill="#000" textLength="81.6" lengthAdjust="spacingAndGlyphs">0.00</text>
<text x="1931.8" y="1230.3" font-size="38.86" fill="#000" textLength="81.6" lengthAdjust="spacingAndGlyphs">0.25</text>
<text x="1931.8" y="1140.8" font-size="38.86" fill="#000" textLength="81.6" lengthAdjust="spacingAndGlyphs">0.50</text>
<text x="1931.8" y="1051.3" font-size="38.86" fill="#000" textLength="81.6" lengthAdjust="spacingAndGlyphs">0.75</text>
<text x="1931.8" y="961.8" font-size="38.86" fill="#000" textLength="81.6" lengthAdjust="spacingAndGlyphs">1.00</text>
<path d="M1836.9,1306.4h14.4M1894.5,1306.4h14.4M1836.9,1216.9h14.4M1894.5,1216.9h14.4M1836.9,1127.4h14.4M1894.5,1127.4h14.4M1836.9,1037.9h14.4M1894.5,1037.9h14.4M1836.9,948.4h14.4M1894.5,948.4h14.4" stroke="#fff" stroke-width="1.6" fill="none"/>
</svg></body></html>
